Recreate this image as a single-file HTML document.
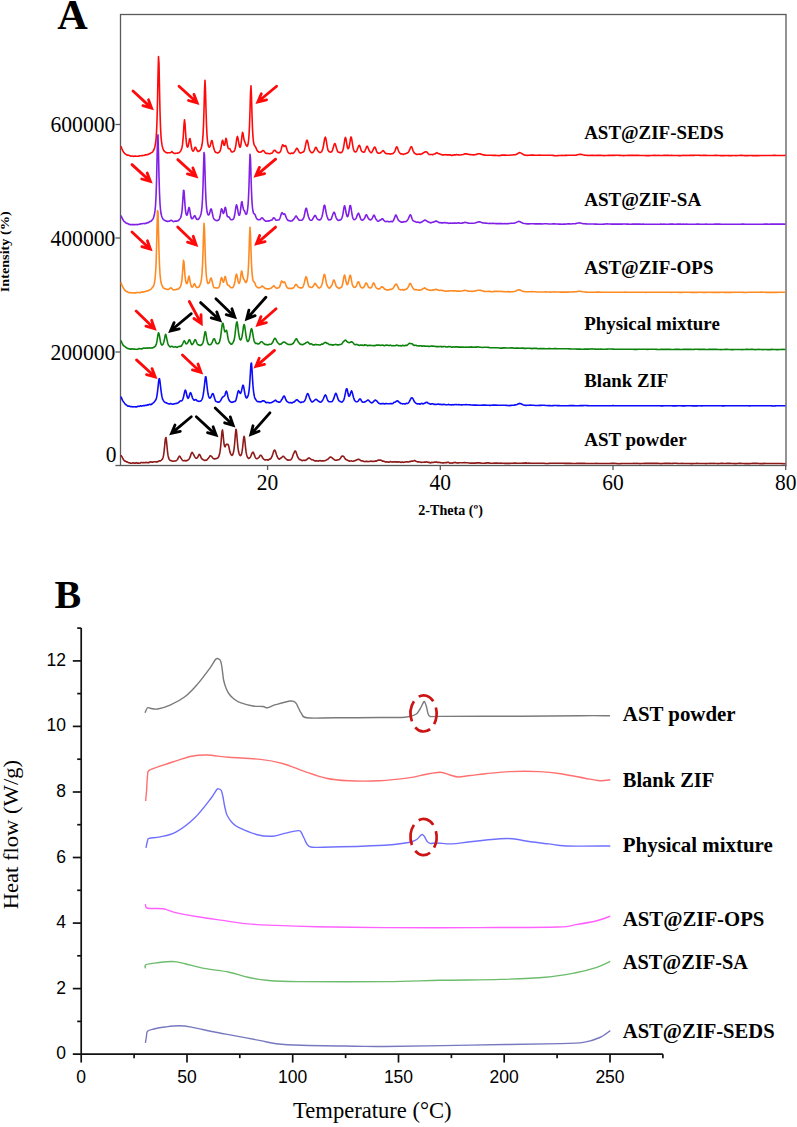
<!DOCTYPE html>
<html><head><meta charset="utf-8"><style>
html,body{margin:0;padding:0;background:#fff;}
body{width:797px;height:1127px;overflow:hidden;font-family:"Liberation Serif",serif;}
svg{display:block;}
</style></head><body>
<svg width="797" height="1127" viewBox="0 0 797 1127">
<rect width="797" height="1127" fill="#fff"/>
<text x="57.3" y="29.4" font-family='"Liberation Serif", serif' font-size="43" font-weight="bold" text-anchor="start" textLength="30.5" lengthAdjust="spacingAndGlyphs">A</text>
<rect x="120.5" y="14.5" width="665.5" height="451.0" fill="none" stroke="#5a5a5a" stroke-width="1.3"/>
<line x1="115.4" y1="124.5" x2="120.5" y2="124.5" stroke="#5a5a5a" stroke-width="1.3"/>
<line x1="115.4" y1="238.0" x2="120.5" y2="238.0" stroke="#5a5a5a" stroke-width="1.3"/>
<line x1="115.4" y1="352.0" x2="120.5" y2="352.0" stroke="#5a5a5a" stroke-width="1.3"/>
<line x1="115.4" y1="465.5" x2="120.5" y2="465.5" stroke="#5a5a5a" stroke-width="1.3"/>
<text transform="translate(115.3,132.1) scale(1,1.11)" x="0" y="0" font-family='"Liberation Serif", serif' font-size="21.5" font-weight="normal" text-anchor="end" textLength="64.8" lengthAdjust="spacingAndGlyphs">600000</text>
<text transform="translate(115.3,245.6) scale(1,1.11)" x="0" y="0" font-family='"Liberation Serif", serif' font-size="21.5" font-weight="normal" text-anchor="end" textLength="64.8" lengthAdjust="spacingAndGlyphs">400000</text>
<text transform="translate(115.3,359.6) scale(1,1.11)" x="0" y="0" font-family='"Liberation Serif", serif' font-size="21.5" font-weight="normal" text-anchor="end" textLength="64.8" lengthAdjust="spacingAndGlyphs">200000</text>
<text transform="translate(116.5,461.5) scale(1,1.11)" x="0" y="0" font-family='"Liberation Serif", serif' font-size="21.5" font-weight="normal" text-anchor="end">0</text>
<line x1="267.6" y1="465.5" x2="267.6" y2="470.0" stroke="#5a5a5a" stroke-width="1.3"/>
<text transform="translate(267.6,490) scale(1,1.11)" x="0" y="0" font-family='"Liberation Serif", serif' font-size="21.5" font-weight="normal" text-anchor="middle">20</text>
<line x1="440.3" y1="465.5" x2="440.3" y2="470.0" stroke="#5a5a5a" stroke-width="1.3"/>
<text transform="translate(440.3,490) scale(1,1.11)" x="0" y="0" font-family='"Liberation Serif", serif' font-size="21.5" font-weight="normal" text-anchor="middle">40</text>
<line x1="613.0" y1="465.5" x2="613.0" y2="470.0" stroke="#5a5a5a" stroke-width="1.3"/>
<text transform="translate(613.0,490) scale(1,1.11)" x="0" y="0" font-family='"Liberation Serif", serif' font-size="21.5" font-weight="normal" text-anchor="middle">60</text>
<line x1="785.7" y1="465.5" x2="785.7" y2="470.0" stroke="#5a5a5a" stroke-width="1.3"/>
<text transform="translate(785.7,490) scale(1,1.11)" x="0" y="0" font-family='"Liberation Serif", serif' font-size="21.5" font-weight="normal" text-anchor="middle">80</text>
<text x="418.3" y="514.8" font-family='"Liberation Serif", serif' font-size="14" font-weight="bold" text-anchor="start" textLength="64.6" lengthAdjust="spacingAndGlyphs">2-Theta (º)</text>
<g transform="translate(9.3,292.3) rotate(-90)"><text x="0" y="0" font-family='"Liberation Serif", serif' font-size="13" font-weight="bold" text-anchor="start" textLength="81" lengthAdjust="spacingAndGlyphs">Intensity (%)</text></g>
<polyline points="121.0,146.3 121.5,147.6 122.0,149.0 122.5,150.2 123.0,151.2 123.5,151.9 124.0,152.5 124.5,153.2 125.0,153.8 125.5,154.0 126.0,154.4 126.5,154.8 127.0,155.0 127.5,155.2 128.0,155.1 128.5,155.3 129.0,155.3 129.5,155.6 130.0,155.7 130.5,156.0 131.0,156.2 131.5,156.3 132.0,156.1 132.5,156.0 133.0,156.0 133.5,156.4 134.0,156.3 134.5,156.2 135.0,156.0 135.5,156.1 136.0,156.3 136.5,156.2 137.0,156.3 137.5,156.2 138.0,156.2 138.5,156.1 139.0,156.0 139.5,156.0 140.0,155.8 140.5,155.7 141.0,155.8 141.5,155.7 142.0,155.7 142.5,155.4 143.0,155.5 143.5,155.5 144.0,155.5 144.5,155.3 145.0,155.0 145.5,154.9 146.0,154.9 146.5,154.8 147.0,154.6 147.5,154.6 148.0,154.5 148.5,154.3 149.0,154.1 149.5,153.7 150.0,153.6 150.5,153.2 151.0,152.9 151.5,152.5 152.0,152.4 152.5,152.1 153.0,151.4 153.5,150.4 154.0,149.4 154.5,148.0 155.0,146.2 155.5,143.5 156.0,139.6 156.5,132.7 157.0,120.7 157.5,101.4 158.0,75.7 158.5,56.5 159.0,63.7 159.5,88.9 160.0,111.7 160.5,127.1 161.0,136.3 161.5,141.6 162.0,144.9 162.5,147.0 163.0,148.8 163.5,149.9 164.0,150.8 164.5,151.4 165.0,151.7 165.5,152.2 166.0,152.5 166.5,152.8 167.0,152.7 167.5,152.9 168.0,152.8 168.5,152.7 169.0,152.7 169.5,152.7 170.0,152.8 170.5,152.7 171.0,152.3 171.5,151.8 172.0,151.6 172.5,152.2 173.0,152.7 173.5,153.1 174.0,153.3 174.5,153.5 175.0,153.5 175.5,153.4 176.0,153.3 176.5,153.3 177.0,153.2 177.5,153.0 178.0,153.1 178.5,152.9 179.0,152.8 179.5,152.3 180.0,151.9 180.5,151.1 181.0,150.3 181.5,149.2 182.0,147.4 182.5,144.7 183.0,139.7 183.5,133.0 184.0,124.4 184.5,119.9 185.0,123.5 185.5,131.5 186.0,138.7 186.5,143.5 187.0,146.3 187.5,147.2 188.0,146.6 188.5,144.7 189.0,142.0 189.5,139.1 190.0,138.6 190.5,140.7 191.0,144.3 191.5,147.3 192.0,149.5 192.5,150.6 193.0,151.2 193.5,150.8 194.0,149.9 194.5,148.5 195.0,147.3 195.5,147.2 196.0,148.1 196.5,149.5 197.0,150.3 197.5,150.9 198.0,151.4 198.5,151.5 199.0,151.2 199.5,150.7 200.0,150.5 200.5,149.7 201.0,148.6 201.5,147.0 202.0,144.8 202.5,141.3 203.0,135.4 203.5,125.6 204.0,109.8 204.5,90.6 205.0,80.3 205.5,90.8 206.0,109.8 206.5,125.1 207.0,135.2 207.5,141.1 208.0,144.6 208.5,146.3 209.0,147.1 209.5,147.1 210.0,146.4 210.5,144.8 211.0,142.7 211.5,140.7 212.0,140.5 212.5,142.2 213.0,144.9 213.5,147.3 214.0,149.1 214.5,150.5 215.0,151.6 215.5,152.2 216.0,152.4 216.5,152.6 217.0,152.8 217.5,152.9 218.0,152.7 218.5,152.7 219.0,152.2 219.5,151.9 220.0,151.0 220.5,149.7 221.0,147.6 221.5,144.8 222.0,141.8 222.5,140.2 223.0,141.3 223.5,143.6 224.0,145.3 224.5,145.3 225.0,143.5 225.5,140.5 226.0,138.3 226.5,139.3 227.0,142.6 227.5,145.8 228.0,147.8 228.5,148.6 229.0,148.6 229.5,148.5 230.0,148.9 230.5,150.0 231.0,151.0 231.5,151.8 232.0,152.0 232.5,152.0 233.0,151.8 233.5,151.6 234.0,151.3 234.5,150.5 235.0,149.3 235.5,147.1 236.0,144.3 236.5,140.5 237.0,137.5 237.5,136.4 238.0,138.4 238.5,141.4 239.0,144.3 239.5,146.5 240.0,147.4 240.5,146.7 241.0,144.1 241.5,140.2 242.0,135.5 242.5,132.4 243.0,133.4 243.5,136.7 244.0,139.6 244.5,141.2 245.0,142.3 245.5,143.7 246.0,145.0 246.5,145.8 247.0,146.3 247.5,145.9 248.0,144.3 248.5,141.0 249.0,135.3 249.5,125.6 250.0,110.7 250.5,93.2 251.0,85.7 251.5,97.3 252.0,114.9 252.5,128.8 253.0,137.1 253.5,142.0 254.0,144.4 254.5,145.5 255.0,146.2 255.5,146.8 256.0,148.0 256.5,149.2 257.0,150.3 257.5,150.9 258.0,151.5 258.5,151.8 259.0,152.3 259.5,152.2 260.0,152.2 260.5,152.0 261.0,152.0 261.5,151.7 262.0,151.2 262.5,150.8 263.0,150.5 263.5,150.7 264.0,150.9 264.5,151.7 265.0,152.4 265.5,153.2 266.0,153.3 266.5,153.4 267.0,153.5 267.5,153.4 268.0,153.5 268.5,153.5 269.0,153.7 269.5,153.8 270.0,153.7 270.5,153.4 271.0,153.2 271.5,153.2 272.0,153.0 272.5,152.7 273.0,151.9 273.5,151.0 274.0,150.4 274.5,150.2 275.0,150.4 275.5,150.9 276.0,151.4 276.5,152.1 277.0,152.3 277.5,152.6 278.0,152.6 278.5,152.9 279.0,152.7 279.5,152.6 280.0,152.2 280.5,151.4 281.0,149.9 281.5,148.0 282.0,146.3 282.5,144.9 283.0,144.9 283.5,145.8 284.0,146.4 284.5,146.3 285.0,145.6 285.5,145.6 286.0,146.3 286.5,147.9 287.0,149.6 287.5,151.0 288.0,152.2 288.5,152.8 289.0,153.3 289.5,153.4 290.0,153.6 290.5,153.6 291.0,153.5 291.5,153.1 292.0,153.1 292.5,153.3 293.0,153.5 293.5,153.1 294.0,152.5 294.5,151.8 295.0,151.2 295.5,150.3 296.0,149.3 296.5,148.5 297.0,148.3 297.5,148.8 298.0,149.7 298.5,150.8 299.0,151.7 299.5,152.5 300.0,152.9 300.5,153.1 301.0,152.8 301.5,152.8 302.0,152.5 302.5,152.3 303.0,152.1 303.5,151.9 304.0,151.2 304.5,149.7 305.0,147.7 305.5,145.3 306.0,142.9 306.5,141.0 307.0,140.2 307.5,141.1 308.0,143.0 308.5,145.6 309.0,147.9 309.5,149.7 310.0,150.9 310.5,151.6 311.0,152.3 311.5,152.6 312.0,152.9 312.5,152.6 313.0,152.3 313.5,151.6 314.0,150.9 314.5,149.8 315.0,148.6 315.5,147.5 316.0,147.3 316.5,147.9 317.0,149.1 317.5,150.2 318.0,151.0 318.5,151.5 319.0,151.9 319.5,152.4 320.0,152.5 320.5,152.5 321.0,152.3 321.5,151.8 322.0,150.8 322.5,149.7 323.0,148.1 323.5,145.5 324.0,142.5 324.5,139.4 325.0,137.6 325.5,137.2 326.0,139.1 326.5,141.9 327.0,145.3 327.5,147.9 328.0,150.1 328.5,150.9 329.0,151.7 329.5,151.8 330.0,152.0 330.5,152.1 331.0,152.0 331.5,151.9 332.0,151.2 332.5,150.2 333.0,148.6 333.5,146.7 334.0,145.0 334.5,143.7 335.0,143.6 335.5,144.8 336.0,146.5 336.5,148.3 337.0,149.8 337.5,151.2 338.0,151.9 338.5,152.3 339.0,152.3 339.5,152.5 340.0,152.6 340.5,152.6 341.0,152.8 341.5,152.4 342.0,152.0 342.5,151.1 343.0,149.8 343.5,147.7 344.0,144.8 344.5,141.5 345.0,138.4 345.5,137.4 346.0,139.1 346.5,142.2 347.0,145.5 347.5,147.6 348.0,148.7 348.5,148.4 349.0,147.4 349.5,145.0 350.0,141.8 350.5,138.4 351.0,136.9 351.5,137.8 352.0,140.8 352.5,144.1 353.0,147.2 353.5,149.5 354.0,150.8 354.5,151.5 355.0,151.9 355.5,151.9 356.0,151.8 356.5,151.2 357.0,150.3 357.5,148.8 358.0,147.6 358.5,146.2 359.0,145.5 359.5,145.4 360.0,146.6 360.5,148.1 361.0,149.9 361.5,150.9 362.0,151.6 362.5,151.8 363.0,152.0 363.5,152.3 364.0,152.3 364.5,151.8 365.0,150.8 365.5,149.5 366.0,148.5 366.5,147.0 367.0,146.3 367.5,146.2 368.0,147.7 368.5,148.9 369.0,150.3 369.5,151.0 370.0,151.7 370.5,152.3 371.0,152.7 371.5,152.6 372.0,152.0 372.5,150.9 373.0,149.9 373.5,148.8 374.0,147.8 374.5,147.1 375.0,147.1 375.5,148.1 376.0,149.4 376.5,151.0 377.0,152.2 377.5,152.9 378.0,153.1 378.5,153.1 379.0,153.2 379.5,153.2 380.0,153.1 380.5,152.8 381.0,152.5 381.5,152.0 382.0,151.5 382.5,150.9 383.0,150.6 383.5,150.8 384.0,151.4 384.5,152.0 385.0,152.8 385.5,153.2 386.0,153.5 386.5,153.6 387.0,153.6 387.5,153.8 388.0,153.8 388.5,153.7 389.0,153.8 389.5,153.9 390.0,154.1 390.5,154.0 391.0,153.9 391.5,153.8 392.0,153.7 392.5,153.6 393.0,153.5 393.5,153.0 394.0,152.6 394.5,151.8 395.0,150.8 395.5,149.4 396.0,148.1 396.5,146.9 397.0,147.0 397.5,147.8 398.0,149.4 398.5,150.8 399.0,151.8 399.5,152.6 400.0,153.2 400.5,153.7 401.0,153.9 401.5,153.8 402.0,153.9 402.5,154.1 403.0,154.4 403.5,154.4 404.0,154.0 404.5,154.0 405.0,153.9 405.5,153.8 406.0,153.6 406.5,153.3 407.0,153.3 407.5,152.8 408.0,152.6 408.5,152.0 409.0,151.1 409.5,149.9 410.0,148.8 410.5,147.6 411.0,146.8 411.5,146.7 412.0,147.6 412.5,149.0 413.0,150.5 413.5,151.7 414.0,152.6 414.5,153.1 415.0,153.5 415.5,153.8 416.0,154.1 416.5,154.4 417.0,154.4 417.5,154.4 418.0,154.3 418.5,154.2 419.0,154.0 419.5,154.1 420.0,154.2 420.5,154.4 421.0,154.0 421.5,153.9 422.0,153.7 422.5,153.6 423.0,153.0 423.5,152.7 424.0,152.5 424.5,152.3 425.0,151.9 425.5,151.7 426.0,151.8 426.5,151.8 427.0,152.2 427.5,152.7 428.0,153.5 428.5,154.0 429.0,154.4 429.5,154.5 430.0,154.5 430.5,154.5 431.0,154.5 431.5,154.5 432.0,154.5 432.5,154.7 433.0,154.6 433.5,154.4 434.0,154.0 434.5,154.0 435.0,153.7 435.5,153.6 436.0,153.1 436.5,152.9 437.0,152.6 437.5,153.0 438.0,153.4 438.5,153.6 439.0,153.7 439.5,153.8 440.0,154.1 440.5,154.2 441.0,154.4 441.5,154.6 442.0,154.9 442.5,154.8 443.0,154.9 443.5,154.8 444.0,155.0 444.5,154.8 445.0,154.7 445.5,154.6 446.0,154.7 446.5,154.9 447.0,154.9 447.5,154.9 448.0,154.8 448.5,154.7 449.0,155.0 449.5,154.9 450.0,154.9 450.5,154.9 451.0,155.3 451.5,155.5 452.0,155.4 452.5,155.2 453.0,155.1 453.5,155.1 454.0,155.0 454.5,154.8 455.0,154.9 455.5,154.9 456.0,154.7 456.5,154.5 457.0,154.7 457.5,154.8 458.0,154.9 458.5,154.8 459.0,155.0 459.5,155.0 460.0,155.0 461.5,154.7 463.0,154.5 464.5,153.9 466.0,153.8 467.5,154.1 469.0,154.5 470.5,154.6 472.0,154.7 473.5,154.9 475.0,154.7 476.5,154.4 478.0,153.8 479.5,153.8 481.0,154.1 482.5,154.7 484.0,154.9 485.5,155.2 487.0,155.3 488.5,155.2 490.0,155.2 491.5,155.3 493.0,155.4 494.5,155.2 496.0,155.4 497.5,155.5 499.0,155.6 500.5,155.4 502.0,155.1 503.5,155.1 505.0,155.1 506.5,155.3 508.0,155.3 509.5,155.2 511.0,155.0 512.5,155.0 514.0,154.8 515.5,154.7 517.0,154.0 518.5,153.1 520.0,152.6 521.5,153.4 523.0,154.3 524.5,155.1 526.0,155.3 527.5,155.4 529.0,155.2 530.5,155.1 532.0,155.0 533.5,155.1 535.0,155.2 536.5,155.2 538.0,155.2 539.5,155.1 541.0,155.3 542.5,155.3 544.0,155.3 545.5,155.3 547.0,155.3 548.5,155.3 550.0,155.2 551.5,155.2 553.0,155.4 554.5,155.6 556.0,155.7 557.5,155.6 559.0,155.5 560.5,155.5 562.0,155.4 563.5,155.5 565.0,155.4 566.5,155.4 568.0,155.3 569.5,155.3 571.0,155.3 572.5,155.3 574.0,155.3 575.5,155.2 577.0,154.9 578.5,154.5 580.0,154.3 581.5,154.4 583.0,154.8 584.5,155.1 586.0,155.3 587.5,155.4 589.0,155.5 590.5,155.4 592.0,155.4 593.5,155.4 595.0,155.5 596.5,155.4 598.0,155.4 599.5,155.3 601.0,155.4 602.5,155.5 604.0,155.6 605.5,155.5 607.0,155.5 608.5,155.4 610.0,155.4 611.5,155.4 613.0,155.4 614.5,155.4 616.0,155.3 617.5,155.3 619.0,155.4 620.5,155.4 622.0,155.5 623.5,155.6 625.0,155.5 626.5,155.5 628.0,155.4 629.5,155.3 631.0,155.4 632.5,155.4 634.0,155.4 635.5,155.4 637.0,155.4 638.5,155.4 640.0,155.5 641.5,155.5 643.0,155.5 644.5,155.5 646.0,155.6 647.5,155.6 649.0,155.6 650.5,155.5 652.0,155.5 653.5,155.4 655.0,155.4 656.5,155.5 658.0,155.4 659.5,155.5 661.0,155.5 662.5,155.5 664.0,155.4 665.5,155.4 667.0,155.4 668.5,155.4 670.0,155.5 671.5,155.4 673.0,155.5 674.5,155.5 676.0,155.5 677.5,155.5 679.0,155.6 680.5,155.6 682.0,155.5 683.5,155.4 685.0,155.5 686.5,155.4 688.0,155.5 689.5,155.4 691.0,155.4 692.5,155.4 694.0,155.4 695.5,155.3 697.0,155.3 698.5,155.3 700.0,155.4 701.5,155.5 703.0,155.4 704.5,155.4 706.0,155.4 707.5,155.5 709.0,155.5 710.5,155.5 712.0,155.5 713.5,155.5 715.0,155.4 716.5,155.4 718.0,155.5 719.5,155.5 721.0,155.6 722.5,155.5 724.0,155.6 725.5,155.5 727.0,155.5 728.5,155.6 730.0,155.6 731.5,155.6 733.0,155.5 734.5,155.5 736.0,155.6 737.5,155.5 739.0,155.5 740.5,155.4 742.0,155.4 743.5,155.5 745.0,155.6 746.5,155.6 748.0,155.6 749.5,155.5 751.0,155.5 752.5,155.6 754.0,155.6 755.5,155.6 757.0,155.5 758.5,155.6 760.0,155.5 761.5,155.5 763.0,155.5 764.5,155.5 766.0,155.5 767.5,155.5 769.0,155.5 770.5,155.5 772.0,155.5 773.5,155.4 775.0,155.4 776.5,155.5 778.0,155.5 779.5,155.5 781.0,155.5 782.5,155.5 784.0,155.5 785.5,155.4" fill="none" stroke="#ff0a0a" stroke-width="1.6" stroke-linejoin="round"/>
<polyline points="121.0,215.4 121.5,216.9 122.0,217.9 122.5,219.0 123.0,219.7 123.5,220.7 124.0,221.3 124.5,221.7 125.0,222.1 125.5,222.6 126.0,223.0 126.5,223.3 127.0,223.5 127.5,223.4 128.0,223.7 128.5,224.0 129.0,224.4 129.5,224.4 130.0,224.6 130.5,224.6 131.0,224.5 131.5,224.5 132.0,224.7 132.5,224.6 133.0,224.8 133.5,224.6 134.0,224.6 134.5,224.6 135.0,224.7 135.5,224.6 136.0,224.4 136.5,224.5 137.0,224.7 137.5,224.7 138.0,224.5 138.5,224.4 139.0,224.3 139.5,224.3 140.0,224.1 140.5,224.0 141.0,223.8 141.5,223.8 142.0,223.8 142.5,223.7 143.0,223.5 143.5,223.5 144.0,223.5 144.5,223.6 145.0,223.5 145.5,223.4 146.0,223.5 146.5,223.1 147.0,223.0 147.5,222.5 148.0,222.7 148.5,222.6 149.0,222.3 149.5,221.7 150.0,221.4 150.5,221.4 151.0,221.3 151.5,220.8 152.0,220.2 152.5,219.6 153.0,218.8 153.5,217.8 154.0,216.0 154.5,214.1 155.0,210.7 155.5,205.9 156.0,197.0 156.5,182.6 157.0,161.3 157.5,139.0 158.0,134.9 158.5,153.6 159.0,176.4 159.5,193.1 160.0,203.6 160.5,209.6 161.0,213.3 161.5,215.5 162.0,217.0 162.5,218.1 163.0,219.0 163.5,219.6 164.0,220.0 164.5,220.2 165.0,220.5 165.5,220.7 166.0,221.0 166.5,221.1 167.0,221.4 167.5,221.2 168.0,221.4 168.5,221.3 169.0,221.2 169.5,221.1 170.0,220.7 170.5,220.6 171.0,220.3 171.5,220.4 172.0,220.6 172.5,221.0 173.0,221.4 173.5,221.6 174.0,221.5 174.5,221.3 175.0,221.3 175.5,221.0 176.0,221.2 176.5,221.0 177.0,221.1 177.5,220.9 178.0,220.8 178.5,220.4 179.0,219.9 179.5,219.3 180.0,218.6 180.5,217.8 181.0,216.7 181.5,214.5 182.0,210.9 182.5,204.8 183.0,197.2 183.5,190.3 184.0,190.7 184.5,197.6 185.0,205.3 185.5,210.7 186.0,213.8 186.5,215.0 187.0,215.2 187.5,214.0 188.0,211.8 188.5,208.9 189.0,207.4 189.5,208.3 190.0,211.5 190.5,214.6 191.0,217.1 191.5,218.4 192.0,218.8 192.5,218.6 193.0,218.1 193.5,217.4 194.0,216.5 194.5,215.7 195.0,215.8 195.5,216.9 196.0,218.2 196.5,219.0 197.0,219.3 197.5,219.4 198.0,219.4 198.5,219.2 199.0,218.5 199.5,217.6 200.0,216.8 200.5,215.4 201.0,213.9 201.5,211.1 202.0,206.8 202.5,199.0 203.0,186.3 203.5,168.2 204.0,152.6 204.5,154.9 205.0,172.1 205.5,188.9 206.0,200.3 206.5,207.2 207.0,211.5 207.5,213.5 208.0,214.7 208.5,214.9 209.0,214.7 209.5,213.6 210.0,211.8 210.5,209.8 211.0,208.9 211.5,209.4 212.0,211.7 212.5,214.0 213.0,216.5 213.5,218.1 214.0,219.0 214.5,219.5 215.0,219.9 215.5,220.3 216.0,220.4 216.5,220.6 217.0,220.8 217.5,220.6 218.0,220.3 218.5,220.0 219.0,219.6 219.5,218.5 220.0,216.3 220.5,213.6 221.0,210.7 221.5,208.7 222.0,209.2 222.5,211.1 223.0,213.0 223.5,213.5 224.0,212.5 224.5,210.0 225.0,207.6 225.5,207.3 226.0,209.7 226.5,213.0 227.0,215.4 227.5,216.6 228.0,216.9 228.5,216.7 229.0,216.9 229.5,217.6 230.0,218.7 230.5,219.3 231.0,219.8 231.5,219.7 232.0,219.7 232.5,219.6 233.0,219.3 233.5,218.9 234.0,217.7 234.5,215.8 235.0,212.9 235.5,209.5 236.0,206.5 236.5,204.8 237.0,205.9 237.5,208.5 238.0,211.4 238.5,213.9 239.0,215.3 239.5,215.2 240.0,213.5 240.5,210.4 241.0,206.2 241.5,202.3 242.0,201.6 242.5,204.3 243.0,207.5 243.5,209.4 244.0,210.2 244.5,210.9 245.0,212.2 245.5,213.4 246.0,214.4 246.5,214.1 247.0,212.9 247.5,210.1 248.0,205.7 248.5,198.0 249.0,185.2 249.5,167.8 250.0,154.2 250.5,158.8 251.0,176.0 251.5,191.7 252.0,202.1 252.5,208.0 253.0,211.3 253.5,213.1 254.0,213.7 254.5,214.1 255.0,214.6 255.5,215.8 256.0,217.3 256.5,218.2 257.0,219.0 257.5,219.2 258.0,219.7 258.5,219.8 259.0,219.8 259.5,219.7 260.0,219.6 260.5,219.1 261.0,218.6 261.5,218.0 262.0,217.9 262.5,218.0 263.0,218.6 263.5,219.4 264.0,219.8 264.5,220.3 265.0,220.6 265.5,221.1 266.0,221.2 266.5,221.2 267.0,221.1 267.5,221.0 268.0,220.9 268.5,221.0 269.0,220.8 269.5,220.9 270.0,220.5 270.5,220.4 271.0,220.2 271.5,220.1 272.0,219.9 272.5,219.3 273.0,218.5 273.5,217.8 274.0,217.8 274.5,218.2 275.0,218.9 275.5,219.7 276.0,220.2 276.5,220.2 277.0,220.1 277.5,220.0 278.0,220.0 278.5,220.0 279.0,219.8 279.5,219.1 280.0,218.0 280.5,216.6 281.0,215.0 281.5,213.3 282.0,212.6 282.5,213.1 283.0,213.9 283.5,214.3 284.0,214.1 284.5,213.9 285.0,214.4 285.5,215.6 286.0,216.9 286.5,218.1 287.0,219.1 287.5,219.9 288.0,220.4 288.5,220.6 289.0,220.6 289.5,220.8 290.0,220.9 290.5,221.1 291.0,221.0 291.5,221.0 292.0,220.9 292.5,220.4 293.0,219.9 293.5,219.4 294.0,218.9 294.5,218.2 295.0,217.4 295.5,216.5 296.0,215.9 296.5,216.3 297.0,217.1 297.5,218.0 298.0,218.7 298.5,219.4 299.0,220.0 299.5,220.3 300.0,220.3 300.5,220.3 301.0,220.2 301.5,220.2 302.0,220.1 302.5,219.7 303.0,219.0 303.5,218.3 304.0,216.7 304.5,214.8 305.0,212.0 305.5,209.7 306.0,208.2 306.5,208.5 307.0,210.5 307.5,212.9 308.0,215.1 308.5,216.8 309.0,218.2 309.5,219.2 310.0,219.9 310.5,220.2 311.0,220.3 311.5,220.3 312.0,220.1 312.5,219.4 313.0,218.5 313.5,217.5 314.0,216.8 314.5,215.8 315.0,215.5 315.5,215.6 316.0,216.7 316.5,217.7 317.0,218.6 317.5,219.1 318.0,219.5 318.5,219.8 319.0,219.9 319.5,219.9 320.0,219.9 320.5,219.5 321.0,219.0 321.5,217.8 322.0,216.5 322.5,214.5 323.0,211.9 323.5,208.9 324.0,206.0 324.5,205.1 325.0,206.1 325.5,209.1 326.0,212.0 326.5,214.4 327.0,216.3 327.5,217.7 328.0,219.1 328.5,219.7 329.0,220.0 329.5,219.7 330.0,219.8 330.5,219.7 331.0,219.4 331.5,218.4 332.0,216.8 332.5,215.4 333.0,214.0 333.5,212.7 334.0,212.2 334.5,212.6 335.0,214.0 335.5,215.8 336.0,217.2 336.5,218.5 337.0,219.2 337.5,219.9 338.0,220.3 338.5,220.4 339.0,220.3 339.5,220.1 340.0,220.0 340.5,219.8 341.0,219.5 341.5,218.7 342.0,217.8 342.5,216.0 343.0,213.6 343.5,210.3 344.0,207.3 344.5,205.7 345.0,206.8 345.5,209.3 346.0,212.3 346.5,214.6 347.0,216.2 347.5,216.7 348.0,216.1 348.5,214.3 349.0,211.5 349.5,207.9 350.0,205.5 350.5,205.5 351.0,207.8 351.5,211.0 352.0,214.1 352.5,216.7 353.0,218.3 353.5,219.2 354.0,219.6 354.5,219.6 355.0,219.4 355.5,219.0 356.0,218.5 356.5,217.3 357.0,215.9 357.5,214.6 358.0,213.8 358.5,213.2 359.0,214.2 359.5,215.3 360.0,217.1 360.5,218.3 361.0,219.5 361.5,220.0 362.0,220.1 362.5,220.1 363.0,219.9 363.5,219.4 364.0,219.0 364.5,218.2 365.0,217.5 365.5,215.8 366.0,214.9 366.5,214.7 367.0,215.7 367.5,216.7 368.0,217.7 368.5,218.6 369.0,219.2 369.5,219.6 370.0,219.8 370.5,219.9 371.0,219.8 371.5,219.2 372.0,218.7 372.5,217.8 373.0,216.6 373.5,215.6 374.0,215.1 374.5,215.8 375.0,216.9 375.5,218.1 376.0,219.2 376.5,219.7 377.0,220.4 377.5,221.0 378.0,221.2 378.5,221.2 379.0,220.9 379.5,220.6 380.0,220.1 380.5,219.9 381.0,219.8 381.5,219.4 382.0,218.8 382.5,218.7 383.0,219.1 383.5,220.0 384.0,220.5 384.5,221.1 385.0,221.4 385.5,221.5 386.0,221.6 386.5,221.4 387.0,221.5 387.5,221.4 388.0,221.6 388.5,221.6 389.0,221.7 389.5,221.8 390.0,221.7 390.5,221.6 391.0,221.3 391.5,221.5 392.0,221.7 392.5,221.6 393.0,221.1 393.5,220.4 394.0,219.2 394.5,218.2 395.0,216.6 395.5,215.3 396.0,215.0 396.5,215.8 397.0,217.2 397.5,218.3 398.0,219.2 398.5,220.3 399.0,220.7 399.5,221.1 400.0,221.4 400.5,221.7 401.0,222.0 401.5,222.1 402.0,222.3 402.5,222.1 403.0,222.2 403.5,221.7 404.0,221.6 404.5,221.7 405.0,221.7 405.5,221.8 406.0,221.5 406.5,221.2 407.0,220.7 407.5,220.1 408.0,219.3 408.5,218.3 409.0,217.2 409.5,216.0 410.0,215.0 410.5,214.8 411.0,215.6 411.5,217.0 412.0,218.5 412.5,219.8 413.0,220.6 413.5,220.9 414.0,221.2 414.5,221.4 415.0,221.5 415.5,221.7 416.0,221.9 416.5,222.2 417.0,222.2 417.5,222.3 418.0,222.1 418.5,222.3 419.0,222.4 419.5,222.7 420.0,222.6 420.5,222.6 421.0,222.3 421.5,222.1 422.0,222.0 422.5,221.6 423.0,221.2 423.5,220.7 424.0,220.5 424.5,220.2 425.0,220.1 425.5,220.2 426.0,220.6 426.5,220.7 427.0,221.2 427.5,221.4 428.0,221.8 428.5,222.1 429.0,222.3 429.5,222.3 430.0,222.6 430.5,222.7 431.0,222.9 431.5,222.6 432.0,222.4 432.5,222.3 433.0,222.3 433.5,221.9 434.0,221.7 434.5,221.8 435.0,221.5 435.5,221.3 436.0,220.9 436.5,221.2 437.0,221.5 437.5,221.6 438.0,221.9 438.5,222.2 439.0,222.5 439.5,222.6 440.0,222.6 440.5,222.6 441.0,222.9 441.5,222.8 442.0,223.0 442.5,222.7 443.0,222.9 443.5,222.8 444.0,222.7 444.5,222.6 445.0,222.5 445.5,222.8 446.0,223.0 446.5,223.0 447.0,222.9 447.5,222.9 448.0,223.1 448.5,223.4 449.0,223.3 449.5,223.2 450.0,223.0 450.5,223.1 451.0,223.3 451.5,223.3 452.0,223.2 452.5,223.1 453.0,223.0 453.5,223.3 454.0,223.3 454.5,223.2 455.0,222.9 455.5,223.0 456.0,223.2 456.5,223.3 457.0,223.1 457.5,223.0 458.0,222.9 458.5,222.8 459.0,222.9 459.5,223.0 460.0,223.2 461.5,223.1 463.0,222.9 464.5,222.4 466.0,222.5 467.5,222.9 469.0,223.2 470.5,223.2 472.0,223.3 473.5,223.2 475.0,223.0 476.5,222.6 478.0,222.0 479.5,221.8 481.0,222.2 482.5,222.9 484.0,223.0 485.5,223.1 487.0,223.2 488.5,223.5 490.0,223.4 491.5,223.5 493.0,223.4 494.5,223.5 496.0,223.6 497.5,223.6 499.0,223.6 500.5,223.6 502.0,223.6 503.5,223.7 505.0,223.6 506.5,223.7 508.0,223.6 509.5,223.5 511.0,223.3 512.5,223.3 514.0,223.2 515.5,222.8 517.0,222.1 518.5,221.4 520.0,221.7 521.5,222.6 523.0,223.2 524.5,223.5 526.0,223.8 527.5,223.9 529.0,223.9 530.5,223.8 532.0,223.7 533.5,223.8 535.0,223.9 536.5,223.9 538.0,223.9 539.5,223.9 541.0,223.9 542.5,224.0 544.0,223.8 545.5,223.8 547.0,223.8 548.5,224.0 550.0,224.0 551.5,224.0 553.0,223.9 554.5,223.9 556.0,224.0 557.5,224.0 559.0,224.1 560.5,224.1 562.0,224.2 563.5,224.1 565.0,224.1 566.5,224.0 568.0,223.9 569.5,223.9 571.0,224.0 572.5,223.8 574.0,223.8 575.5,223.6 577.0,223.3 578.5,223.0 580.0,222.9 581.5,223.3 583.0,223.6 584.5,223.8 586.0,223.9 587.5,224.0 589.0,224.0 590.5,224.0 592.0,224.0 593.5,224.0 595.0,224.1 596.5,224.1 598.0,224.2 599.5,224.2 601.0,224.2 602.5,224.2 604.0,224.1 605.5,224.0 607.0,223.9 608.5,224.0 610.0,224.0 611.5,224.1 613.0,224.1 614.5,224.0 616.0,224.1 617.5,224.0 619.0,224.1 620.5,224.0 622.0,224.1 623.5,224.0 625.0,224.0 626.5,224.1 628.0,224.1 629.5,224.2 631.0,224.2 632.5,224.1 634.0,224.0 635.5,224.1 637.0,224.1 638.5,224.1 640.0,224.1 641.5,224.2 643.0,224.1 644.5,224.2 646.0,224.2 647.5,224.3 649.0,224.2 650.5,224.3 652.0,224.3 653.5,224.3 655.0,224.3 656.5,224.2 658.0,224.2 659.5,224.2 661.0,224.1 662.5,224.2 664.0,224.1 665.5,224.2 667.0,224.2 668.5,224.2 670.0,224.1 671.5,224.1 673.0,224.1 674.5,224.2 676.0,224.2 677.5,224.1 679.0,224.1 680.5,224.1 682.0,224.2 683.5,224.1 685.0,224.2 686.5,224.1 688.0,224.2 689.5,224.2 691.0,224.2 692.5,224.2 694.0,224.2 695.5,224.2 697.0,224.1 698.5,224.1 700.0,224.2 701.5,224.3 703.0,224.3 704.5,224.2 706.0,224.1 707.5,224.2 709.0,224.3 710.5,224.3 712.0,224.2 713.5,224.2 715.0,224.1 716.5,224.1 718.0,224.1 719.5,224.1 721.0,224.3 722.5,224.3 724.0,224.3 725.5,224.2 727.0,224.3 728.5,224.3 730.0,224.2 731.5,224.2 733.0,224.2 734.5,224.2 736.0,224.2 737.5,224.2 739.0,224.2 740.5,224.2 742.0,224.1 743.5,224.1 745.0,224.2 746.5,224.2 748.0,224.3 749.5,224.3 751.0,224.2 752.5,224.2 754.0,224.2 755.5,224.3 757.0,224.3 758.5,224.2 760.0,224.2 761.5,224.2 763.0,224.2 764.5,224.1 766.0,224.1 767.5,224.1 769.0,224.2 770.5,224.1 772.0,224.1 773.5,224.0 775.0,224.1 776.5,224.1 778.0,224.1 779.5,224.1 781.0,224.1 782.5,224.1 784.0,224.1 785.5,224.2" fill="none" stroke="#8020e6" stroke-width="1.6" stroke-linejoin="round"/>
<polyline points="121.0,282.6 121.5,284.2 122.0,285.3 122.5,286.6 123.0,287.3 123.5,288.2 124.0,289.0 124.5,289.8 125.0,290.4 125.5,290.9 126.0,291.3 126.5,291.5 127.0,291.6 127.5,291.7 128.0,292.2 128.5,292.4 129.0,292.7 129.5,292.6 130.0,292.6 130.5,292.7 131.0,292.8 131.5,292.9 132.0,292.7 132.5,292.8 133.0,292.7 133.5,292.9 134.0,293.0 134.5,292.9 135.0,292.9 135.5,292.9 136.0,292.9 136.5,292.6 137.0,292.4 137.5,292.5 138.0,292.5 138.5,292.5 139.0,292.5 139.5,292.7 140.0,292.8 140.5,292.5 141.0,292.2 141.5,292.0 142.0,292.0 142.5,292.2 143.0,291.9 143.5,291.9 144.0,291.8 144.5,291.8 145.0,291.6 145.5,291.4 146.0,291.2 146.5,291.1 147.0,291.0 147.5,290.7 148.0,290.8 148.5,290.5 149.0,290.4 149.5,290.0 150.0,289.8 150.5,289.6 151.0,289.2 151.5,288.7 152.0,287.9 152.5,287.3 153.0,286.9 153.5,286.0 154.0,284.7 154.5,282.3 155.0,279.1 155.5,273.7 156.0,265.0 156.5,250.2 157.0,229.6 157.5,210.6 158.0,211.7 158.5,231.3 159.0,251.4 159.5,265.3 160.0,273.9 160.5,279.0 161.0,282.3 161.5,284.0 162.0,285.4 162.5,286.5 163.0,287.4 163.5,288.0 164.0,288.3 164.5,288.6 165.0,288.7 165.5,288.9 166.0,289.0 166.5,289.1 167.0,289.4 167.5,289.5 168.0,289.5 168.5,289.2 169.0,289.1 169.5,288.8 170.0,288.3 170.5,287.9 171.0,287.9 171.5,288.2 172.0,288.6 172.5,289.3 173.0,289.7 173.5,289.9 174.0,289.7 174.5,289.8 175.0,289.8 175.5,289.7 176.0,289.4 176.5,289.3 177.0,289.4 177.5,289.2 178.0,289.2 178.5,288.7 179.0,288.5 179.5,287.7 180.0,287.4 180.5,286.3 181.0,285.0 181.5,282.6 182.0,279.1 182.5,273.3 183.0,266.0 183.5,260.4 184.0,262.3 184.5,269.0 185.0,275.6 185.5,279.9 186.0,282.5 186.5,283.5 187.0,283.6 187.5,282.5 188.0,280.0 188.5,277.4 189.0,276.0 189.5,277.9 190.0,280.9 190.5,283.7 191.0,285.4 191.5,286.7 192.0,287.1 192.5,287.0 193.0,286.4 193.5,285.3 194.0,284.1 194.5,283.7 195.0,284.4 195.5,285.7 196.0,286.7 196.5,287.4 197.0,287.6 197.5,287.4 198.0,287.2 198.5,287.2 199.0,286.8 199.5,285.9 200.0,284.8 200.5,283.6 201.0,281.7 201.5,278.9 202.0,273.9 202.5,265.7 203.0,252.6 203.5,235.3 204.0,223.2 204.5,229.2 205.0,246.4 205.5,261.4 206.0,271.3 206.5,277.0 207.0,280.6 207.5,282.6 208.0,283.5 208.5,283.5 209.0,283.0 209.5,282.0 210.0,280.4 210.5,278.8 211.0,278.0 211.5,278.8 212.0,280.7 212.5,283.1 213.0,285.0 213.5,286.8 214.0,287.6 214.5,287.8 215.0,287.7 215.5,287.8 216.0,288.0 216.5,288.0 217.0,287.9 217.5,288.0 218.0,288.0 218.5,287.6 219.0,287.0 219.5,285.8 220.0,284.1 220.5,281.4 221.0,278.8 221.5,277.5 222.0,278.2 222.5,280.2 223.0,281.7 223.5,282.2 224.0,281.0 224.5,278.4 225.0,276.6 225.5,276.8 226.0,279.3 226.5,281.8 227.0,283.6 227.5,284.7 228.0,285.2 228.5,285.2 229.0,285.6 229.5,286.1 230.0,286.8 230.5,287.2 231.0,287.7 231.5,287.7 232.0,287.7 232.5,287.7 233.0,287.4 233.5,286.5 234.0,285.3 234.5,283.6 235.0,281.0 235.5,278.0 236.0,275.2 236.5,274.2 237.0,275.6 237.5,278.2 238.0,280.9 238.5,282.6 239.0,283.3 239.5,282.9 240.0,281.1 240.5,277.9 241.0,273.9 241.5,271.1 242.0,271.6 242.5,274.6 243.0,277.3 243.5,278.8 244.0,279.5 244.5,280.2 245.0,281.5 245.5,282.2 246.0,282.6 246.5,281.8 247.0,280.6 247.5,278.1 248.0,273.8 248.5,265.8 249.0,253.2 249.5,237.1 250.0,227.4 250.5,234.9 251.0,250.9 251.5,264.0 252.0,272.7 252.5,277.6 253.0,280.4 253.5,281.5 254.0,281.8 254.5,282.5 255.0,283.3 255.5,284.8 256.0,285.8 256.5,286.7 257.0,286.9 257.5,287.3 258.0,287.8 258.5,287.9 259.0,287.8 259.5,287.6 260.0,287.5 260.5,287.5 261.0,286.9 261.5,286.5 262.0,285.9 262.5,286.4 263.0,286.6 263.5,287.0 264.0,287.2 264.5,287.7 265.0,288.4 265.5,288.6 266.0,288.7 266.5,288.6 267.0,288.9 267.5,288.9 268.0,289.0 268.5,288.9 269.0,288.8 269.5,288.7 270.0,288.5 270.5,288.3 271.0,288.2 271.5,287.7 272.0,287.5 272.5,286.9 273.0,286.5 273.5,285.9 274.0,285.8 274.5,286.3 275.0,287.0 275.5,287.5 276.0,288.0 276.5,288.1 277.0,288.2 277.5,288.0 278.0,288.0 278.5,287.8 279.0,287.5 279.5,286.9 280.0,285.9 280.5,284.2 281.0,282.5 281.5,281.0 282.0,281.2 282.5,281.9 283.0,282.6 283.5,282.6 284.0,282.0 284.5,281.9 285.0,282.5 285.5,284.0 286.0,285.2 286.5,286.6 287.0,287.2 287.5,287.9 288.0,288.1 288.5,288.5 289.0,288.5 289.5,288.3 290.0,288.2 290.5,288.4 291.0,288.6 291.5,288.4 292.0,288.4 292.5,288.2 293.0,288.1 293.5,287.7 294.0,287.2 294.5,286.4 295.0,285.5 295.5,284.6 296.0,284.5 296.5,284.5 297.0,285.4 297.5,286.0 298.0,286.9 298.5,287.2 299.0,287.4 299.5,287.6 300.0,287.8 300.5,288.0 301.0,287.9 301.5,288.0 302.0,287.7 302.5,287.5 303.0,286.6 303.5,285.5 304.0,283.9 304.5,282.0 305.0,279.8 305.5,277.9 306.0,276.7 306.5,277.2 307.0,279.0 307.5,281.4 308.0,283.7 308.5,285.5 309.0,286.6 309.5,286.9 310.0,287.1 310.5,287.1 311.0,287.5 311.5,287.5 312.0,287.5 312.5,287.0 313.0,286.5 313.5,285.8 314.0,284.9 314.5,284.0 315.0,283.3 315.5,283.7 316.0,284.4 316.5,285.4 317.0,285.9 317.5,286.5 318.0,287.2 318.5,287.9 319.0,288.0 319.5,288.0 320.0,287.6 320.5,287.3 321.0,286.6 321.5,285.6 322.0,284.2 322.5,282.4 323.0,279.7 323.5,277.1 324.0,274.7 324.5,274.4 325.0,275.7 325.5,278.4 326.0,281.2 326.5,283.5 327.0,285.2 327.5,286.1 328.0,287.0 328.5,287.5 329.0,288.1 329.5,288.1 330.0,287.6 330.5,287.2 331.0,286.5 331.5,285.8 332.0,284.8 332.5,283.3 333.0,281.8 333.5,280.2 334.0,280.0 334.5,280.9 335.0,282.5 335.5,284.1 336.0,285.6 336.5,286.6 337.0,287.2 337.5,287.3 338.0,287.8 338.5,288.3 339.0,288.5 339.5,288.2 340.0,287.9 340.5,287.8 341.0,287.4 341.5,287.1 342.0,286.1 342.5,284.6 343.0,282.1 343.5,279.1 344.0,276.5 344.5,275.1 345.0,276.2 345.5,278.6 346.0,281.3 346.5,283.3 347.0,284.5 347.5,284.6 348.0,283.6 348.5,281.7 349.0,279.4 349.5,276.9 350.0,275.2 350.5,275.5 351.0,277.6 351.5,280.6 352.0,283.2 352.5,285.1 353.0,286.2 353.5,286.9 354.0,287.3 354.5,287.4 355.0,287.3 355.5,286.9 356.0,286.5 356.5,285.5 357.0,284.3 357.5,282.8 358.0,281.9 358.5,281.7 359.0,282.5 359.5,283.9 360.0,285.4 360.5,286.7 361.0,287.2 361.5,287.6 362.0,287.7 362.5,287.9 363.0,287.8 363.5,287.4 364.0,286.9 364.5,286.0 365.0,284.8 365.5,283.7 366.0,283.0 366.5,283.1 367.0,283.8 367.5,284.8 368.0,286.1 368.5,287.0 369.0,287.6 369.5,287.8 370.0,287.9 370.5,288.0 371.0,287.7 371.5,287.3 372.0,286.3 372.5,284.9 373.0,283.8 373.5,282.9 374.0,283.3 374.5,284.2 375.0,285.6 375.5,286.6 376.0,287.4 376.5,288.0 377.0,288.4 377.5,288.6 378.0,288.7 378.5,288.9 379.0,288.9 379.5,288.9 380.0,288.4 380.5,288.0 381.0,287.3 381.5,286.9 382.0,286.8 382.5,287.0 383.0,287.3 383.5,287.7 384.0,288.4 384.5,288.9 385.0,289.3 385.5,289.4 386.0,289.7 386.5,289.9 387.0,289.7 387.5,289.9 388.0,289.9 388.5,290.0 389.0,289.7 389.5,289.5 390.0,289.3 390.5,289.3 391.0,289.4 391.5,289.5 392.0,289.1 392.5,288.7 393.0,288.3 393.5,287.6 394.0,287.0 394.5,286.0 395.0,285.3 395.5,284.4 396.0,284.0 396.5,284.2 397.0,284.8 397.5,286.0 398.0,287.1 398.5,288.4 399.0,289.1 399.5,289.5 400.0,289.6 400.5,289.8 401.0,289.9 401.5,289.8 402.0,289.7 402.5,289.4 403.0,289.7 403.5,289.9 404.0,290.2 404.5,289.8 405.0,289.6 405.5,289.4 406.0,289.4 406.5,289.1 407.0,288.8 407.5,288.1 408.0,287.4 408.5,286.4 409.0,285.3 409.5,284.1 410.0,283.4 410.5,283.6 411.0,284.3 411.5,285.5 412.0,286.5 412.5,287.4 413.0,288.2 413.5,288.7 414.0,289.4 414.5,289.6 415.0,289.7 415.5,289.6 416.0,289.6 416.5,289.8 417.0,289.8 417.5,290.0 418.0,290.0 418.5,290.2 419.0,290.1 419.5,290.1 420.0,290.0 420.5,290.0 421.0,289.9 421.5,289.8 422.0,289.5 422.5,289.0 423.0,288.7 423.5,288.4 424.0,288.2 424.5,287.9 425.0,287.9 425.5,288.5 426.0,288.9 426.5,289.3 427.0,289.4 427.5,289.4 428.0,289.7 428.5,289.7 429.0,290.3 429.5,290.3 430.0,290.4 430.5,290.2 431.0,290.3 431.5,290.3 432.0,290.2 432.5,290.0 433.0,289.9 433.5,289.8 434.0,290.0 434.5,289.9 435.0,289.6 435.5,289.3 436.0,289.3 436.5,289.6 437.0,289.8 437.5,289.9 438.0,290.0 438.5,290.1 439.0,290.4 439.5,290.5 440.0,290.5 440.5,290.3 441.0,290.3 441.5,290.2 442.0,290.4 442.5,290.5 443.0,290.6 443.5,290.7 444.0,290.8 444.5,291.0 445.0,291.2 445.5,291.3 446.0,291.2 446.5,291.1 447.0,290.9 447.5,291.1 448.0,291.1 448.5,291.0 449.0,290.9 449.5,290.7 450.0,290.7 450.5,290.8 451.0,290.7 451.5,290.7 452.0,290.8 452.5,290.9 453.0,291.1 453.5,290.8 454.0,290.8 454.5,290.7 455.0,290.9 455.5,290.9 456.0,291.1 456.5,291.1 457.0,291.1 457.5,291.0 458.0,291.1 458.5,291.1 459.0,291.2 459.5,291.1 460.0,291.2 461.5,291.0 463.0,290.7 464.5,290.4 466.0,290.5 467.5,290.9 469.0,291.2 470.5,291.2 472.0,291.4 473.5,291.3 475.0,290.9 476.5,290.6 478.0,290.2 479.5,290.2 481.0,290.4 482.5,290.8 484.0,291.4 485.5,291.5 487.0,291.5 488.5,291.4 490.0,291.4 491.5,291.7 493.0,291.6 494.5,291.4 496.0,291.3 497.5,291.4 499.0,291.5 500.5,291.4 502.0,291.5 503.5,291.6 505.0,291.7 506.5,291.7 508.0,291.6 509.5,291.9 511.0,291.8 512.5,291.8 514.0,291.5 515.5,291.2 517.0,290.4 518.5,289.7 520.0,290.0 521.5,290.7 523.0,291.3 524.5,291.6 526.0,291.8 527.5,291.7 529.0,291.7 530.5,291.7 532.0,291.6 533.5,291.7 535.0,291.8 536.5,292.0 538.0,292.0 539.5,292.0 541.0,292.0 542.5,292.0 544.0,292.0 545.5,291.9 547.0,292.0 548.5,292.0 550.0,292.1 551.5,292.0 553.0,292.0 554.5,291.9 556.0,292.0 557.5,292.0 559.0,292.0 560.5,292.1 562.0,292.1 563.5,292.1 565.0,292.1 566.5,292.1 568.0,292.1 569.5,292.0 571.0,292.0 572.5,292.0 574.0,291.9 575.5,291.8 577.0,291.6 578.5,291.3 580.0,291.3 581.5,291.5 583.0,291.8 584.5,292.0 586.0,292.1 587.5,292.2 589.0,292.2 590.5,292.2 592.0,292.2 593.5,292.2 595.0,292.2 596.5,292.0 598.0,292.1 599.5,292.1 601.0,292.3 602.5,292.3 604.0,292.3 605.5,292.3 607.0,292.3 608.5,292.2 610.0,292.2 611.5,292.2 613.0,292.3 614.5,292.2 616.0,292.2 617.5,292.2 619.0,292.2 620.5,292.2 622.0,292.2 623.5,292.2 625.0,292.1 626.5,292.2 628.0,292.2 629.5,292.3 631.0,292.2 632.5,292.3 634.0,292.3 635.5,292.2 637.0,292.2 638.5,292.3 640.0,292.3 641.5,292.2 643.0,292.2 644.5,292.3 646.0,292.4 647.5,292.3 649.0,292.3 650.5,292.3 652.0,292.3 653.5,292.3 655.0,292.3 656.5,292.2 658.0,292.2 659.5,292.2 661.0,292.2 662.5,292.3 664.0,292.3 665.5,292.2 667.0,292.2 668.5,292.2 670.0,292.3 671.5,292.4 673.0,292.3 674.5,292.2 676.0,292.2 677.5,292.3 679.0,292.4 680.5,292.4 682.0,292.4 683.5,292.3 685.0,292.2 686.5,292.2 688.0,292.3 689.5,292.3 691.0,292.4 692.5,292.4 694.0,292.4 695.5,292.4 697.0,292.4 698.5,292.3 700.0,292.2 701.5,292.2 703.0,292.4 704.5,292.4 706.0,292.4 707.5,292.3 709.0,292.3 710.5,292.3 712.0,292.4 713.5,292.4 715.0,292.4 716.5,292.4 718.0,292.4 719.5,292.4 721.0,292.3 722.5,292.3 724.0,292.4 725.5,292.4 727.0,292.4 728.5,292.3 730.0,292.4 731.5,292.4 733.0,292.3 734.5,292.3 736.0,292.2 737.5,292.2 739.0,292.2 740.5,292.3 742.0,292.3 743.5,292.4 745.0,292.5 746.5,292.5 748.0,292.3 749.5,292.3 751.0,292.2 752.5,292.2 754.0,292.2 755.5,292.2 757.0,292.2 758.5,292.2 760.0,292.2 761.5,292.1 763.0,292.2 764.5,292.3 766.0,292.4 767.5,292.4 769.0,292.4 770.5,292.4 772.0,292.3 773.5,292.4 775.0,292.4 776.5,292.4 778.0,292.3 779.5,292.3 781.0,292.2 782.5,292.2 784.0,292.2 785.5,292.3" fill="none" stroke="#ff8a22" stroke-width="1.6" stroke-linejoin="round"/>
<polyline points="121.0,340.5 121.5,341.7 122.0,343.1 122.5,343.9 123.0,345.1 123.5,345.4 124.0,346.2 124.5,346.2 125.0,346.6 125.5,347.0 126.0,347.5 126.5,347.8 127.0,348.2 127.5,348.2 128.0,348.6 128.5,348.6 129.0,348.9 129.5,348.8 130.0,349.0 130.5,349.1 131.0,349.3 131.5,349.0 132.0,348.8 132.5,348.7 133.0,348.9 133.5,349.1 134.0,349.1 134.5,349.0 135.0,349.2 135.5,349.3 136.0,349.3 136.5,349.2 137.0,349.3 137.5,349.4 138.0,349.1 138.5,348.8 139.0,348.6 139.5,348.6 140.0,348.7 140.5,348.8 141.0,348.9 141.5,348.9 142.0,348.9 142.5,348.6 143.0,348.3 143.5,348.1 144.0,348.1 144.5,348.2 145.0,348.2 145.5,348.1 146.0,348.0 146.5,348.0 147.0,348.1 147.5,348.1 148.0,348.1 148.5,348.0 149.0,347.9 149.5,347.8 150.0,348.0 150.5,348.0 151.0,348.1 151.5,347.9 152.0,348.1 152.5,347.8 153.0,347.8 153.5,347.4 154.0,347.3 154.5,346.8 155.0,346.5 155.5,345.9 156.0,344.9 156.5,343.4 157.0,340.9 157.5,337.7 158.0,334.4 158.5,332.7 159.0,333.6 159.5,336.0 160.0,339.1 160.5,341.7 161.0,343.9 161.5,344.7 162.0,345.1 162.5,344.8 163.0,344.3 163.5,343.0 164.0,341.4 164.5,339.0 165.0,336.3 165.5,334.4 166.0,334.9 166.5,337.3 167.0,339.8 167.5,342.2 168.0,344.0 168.5,345.2 169.0,345.9 169.5,346.2 170.0,346.8 170.5,346.9 171.0,346.5 171.5,346.2 172.0,346.3 172.5,346.6 173.0,346.9 173.5,347.1 174.0,347.0 174.5,347.0 175.0,346.9 175.5,346.9 176.0,346.8 176.5,347.3 177.0,347.4 177.5,347.3 178.0,346.8 178.5,346.6 179.0,346.4 179.5,346.4 180.0,346.3 180.5,346.5 181.0,346.3 181.5,345.9 182.0,345.0 182.5,344.1 183.0,343.0 183.5,341.8 184.0,341.0 184.5,340.8 185.0,341.8 185.5,342.8 186.0,343.8 186.5,343.9 187.0,343.6 187.5,343.0 188.0,342.3 188.5,341.1 189.0,339.9 189.5,339.6 190.0,340.5 190.5,341.8 191.0,343.2 191.5,344.1 192.0,344.6 192.5,344.3 193.0,343.7 193.5,342.9 194.0,341.6 194.5,340.5 195.0,339.7 195.5,339.8 196.0,340.7 196.5,342.1 197.0,343.3 197.5,344.2 198.0,344.6 198.5,345.0 199.0,344.9 199.5,345.3 200.0,345.2 200.5,345.5 201.0,345.1 201.5,344.9 202.0,344.4 202.5,343.7 203.0,342.5 203.5,340.6 204.0,337.7 204.5,334.5 205.0,331.8 205.5,331.8 206.0,334.0 206.5,337.2 207.0,339.9 207.5,342.0 208.0,343.5 208.5,344.3 209.0,344.7 209.5,344.7 210.0,344.8 210.5,344.5 211.0,344.2 211.5,343.7 212.0,342.7 212.5,341.6 213.0,340.2 213.5,339.1 214.0,338.9 214.5,338.8 215.0,340.2 215.5,341.3 216.0,342.8 216.5,343.4 217.0,343.8 217.5,343.7 218.0,343.8 218.5,343.4 219.0,342.8 219.5,341.8 220.0,340.1 220.5,337.6 221.0,334.0 221.5,329.9 222.0,325.9 222.5,323.3 223.0,323.2 223.5,325.4 224.0,328.4 224.5,330.9 225.0,331.8 225.5,331.4 226.0,330.6 226.5,330.3 227.0,332.2 227.5,335.0 228.0,338.1 228.5,340.2 229.0,341.8 229.5,342.5 230.0,343.2 230.5,343.6 231.0,344.1 231.5,344.2 232.0,344.0 232.5,343.3 233.0,342.7 233.5,341.7 234.0,340.4 234.5,338.1 235.0,334.7 235.5,330.2 236.0,325.8 236.5,322.6 237.0,321.8 237.5,324.1 238.0,328.1 238.5,332.3 239.0,335.6 239.5,337.9 240.0,339.5 240.5,339.9 241.0,339.8 241.5,338.4 242.0,336.5 242.5,333.6 243.0,330.1 243.5,326.3 244.0,324.5 244.5,325.0 245.0,328.3 245.5,332.0 246.0,335.6 246.5,338.5 247.0,340.3 247.5,341.4 248.0,341.4 248.5,340.8 249.0,339.8 249.5,338.1 250.0,335.4 250.5,332.4 251.0,329.6 251.5,328.7 252.0,329.7 252.5,332.1 253.0,335.0 253.5,338.0 254.0,340.4 254.5,341.9 255.0,342.7 255.5,343.3 256.0,343.6 256.5,343.4 257.0,343.4 257.5,343.7 258.0,343.9 258.5,343.9 259.0,343.7 259.5,343.4 260.0,342.8 260.5,342.3 261.0,341.8 261.5,341.7 262.0,341.8 262.5,342.3 263.0,342.8 263.5,343.2 264.0,343.5 264.5,344.2 265.0,344.5 265.5,344.5 266.0,344.3 266.5,344.6 267.0,345.0 267.5,344.8 268.0,344.8 268.5,344.6 269.0,344.6 269.5,344.3 270.0,344.3 270.5,344.3 271.0,344.2 271.5,343.8 272.0,343.3 272.5,342.5 273.0,341.8 273.5,340.5 274.0,339.3 274.5,338.6 275.0,338.3 275.5,338.8 276.0,339.5 276.5,340.6 277.0,341.5 277.5,342.5 278.0,342.9 278.5,343.5 279.0,343.9 279.5,344.4 280.0,344.4 280.5,344.1 281.0,344.2 281.5,343.7 282.0,343.3 282.5,342.6 283.0,342.4 283.5,342.1 284.0,342.1 284.5,342.1 285.0,342.4 285.5,342.7 286.0,343.1 286.5,343.5 287.0,343.8 287.5,344.0 288.0,344.4 288.5,344.5 289.0,344.5 289.5,344.5 290.0,344.4 290.5,344.6 291.0,344.4 291.5,344.4 292.0,344.2 292.5,343.8 293.0,343.4 293.5,343.2 294.0,342.2 294.5,341.4 295.0,340.3 295.5,339.6 296.0,338.8 296.5,338.9 297.0,339.4 297.5,340.7 298.0,341.3 298.5,342.3 299.0,342.8 299.5,343.4 300.0,344.0 300.5,344.3 301.0,344.4 301.5,344.4 302.0,344.6 302.5,344.7 303.0,344.5 303.5,344.2 304.0,344.0 304.5,343.8 305.0,343.6 305.5,343.1 306.0,342.7 306.5,342.4 307.0,342.2 307.5,342.1 308.0,342.3 308.5,342.5 309.0,343.3 309.5,343.6 310.0,344.1 310.5,344.0 311.0,343.8 311.5,343.9 312.0,344.1 312.5,344.8 313.0,344.7 313.5,345.0 314.0,344.7 314.5,345.0 315.0,344.5 315.5,344.5 316.0,344.4 316.5,344.8 317.0,344.8 317.5,344.7 318.0,344.7 318.5,344.8 319.0,345.0 319.5,345.0 320.0,345.0 320.5,344.9 321.0,344.5 321.5,344.1 322.0,344.1 322.5,344.2 323.0,344.1 323.5,343.5 324.0,343.1 324.5,342.7 325.0,342.4 325.5,342.2 326.0,342.7 326.5,343.0 327.0,343.4 327.5,343.3 328.0,343.5 328.5,344.0 329.0,344.4 329.5,344.6 330.0,344.6 330.5,344.6 331.0,344.5 331.5,344.7 332.0,344.8 332.5,345.3 333.0,345.0 333.5,345.0 334.0,344.7 334.5,344.8 335.0,344.6 335.5,344.4 336.0,344.4 336.5,344.7 337.0,344.7 337.5,344.9 338.0,344.9 338.5,344.9 339.0,344.8 339.5,344.6 340.0,344.5 340.5,344.5 341.0,344.4 341.5,344.1 342.0,343.6 342.5,343.0 343.0,342.2 343.5,341.6 344.0,341.1 344.5,340.8 345.0,340.2 345.5,340.1 346.0,340.4 346.5,341.2 347.0,341.6 347.5,342.0 348.0,342.3 348.5,342.5 349.0,342.6 349.5,342.6 350.0,342.4 350.5,342.3 351.0,341.9 351.5,341.9 352.0,341.9 352.5,342.3 353.0,342.8 353.5,343.3 354.0,344.0 354.5,344.4 355.0,344.7 355.5,344.6 356.0,344.5 356.5,344.5 357.0,344.4 357.5,344.8 358.0,344.9 358.5,345.2 359.0,345.2 359.5,345.4 360.0,345.2 360.5,345.1 361.0,345.1 361.5,345.2 362.0,345.1 362.5,345.1 363.0,345.4 363.5,345.5 364.0,345.4 364.5,344.9 365.0,344.8 365.5,345.0 366.0,345.1 366.5,345.3 367.0,345.4 367.5,345.8 368.0,345.6 368.5,345.5 369.0,345.3 369.5,345.4 370.0,345.4 370.5,345.3 371.0,345.5 371.5,345.5 372.0,345.5 372.5,345.5 373.0,345.6 373.5,345.6 374.0,345.5 374.5,345.6 375.0,345.6 375.5,345.5 376.0,345.2 376.5,345.1 377.0,345.0 377.5,345.1 378.0,345.2 378.5,345.1 379.0,345.1 379.5,345.1 380.0,345.4 380.5,345.3 381.0,345.4 381.5,345.3 382.0,345.3 382.5,345.0 383.0,345.1 383.5,345.4 384.0,345.7 384.5,345.7 385.0,345.4 385.5,345.2 386.0,345.1 386.5,345.2 387.0,345.1 387.5,345.2 388.0,345.3 388.5,345.5 389.0,345.6 389.5,345.4 390.0,345.2 390.5,345.1 391.0,345.4 391.5,345.7 392.0,345.7 392.5,345.8 393.0,345.6 393.5,345.8 394.0,345.8 394.5,345.8 395.0,345.7 395.5,345.5 396.0,345.4 396.5,345.1 397.0,345.3 397.5,345.4 398.0,345.6 398.5,345.5 399.0,345.7 399.5,345.7 400.0,345.6 400.5,345.6 401.0,345.9 401.5,346.0 402.0,345.6 402.5,345.3 403.0,345.4 403.5,345.6 404.0,345.9 404.5,345.6 405.0,345.6 405.5,345.3 406.0,345.5 406.5,345.3 407.0,345.4 407.5,344.9 408.0,344.5 408.5,343.9 409.0,343.6 409.5,343.3 410.0,343.4 410.5,343.6 411.0,343.8 411.5,343.7 412.0,343.8 412.5,344.0 413.0,344.7 413.5,345.0 414.0,345.4 414.5,345.4 415.0,345.2 415.5,345.2 416.0,345.2 416.5,345.6 417.0,345.7 417.5,345.8 418.0,345.7 418.5,346.0 419.0,346.0 419.5,345.9 420.0,345.7 420.5,345.8 421.0,345.8 421.5,346.0 422.0,346.3 422.5,346.1 423.0,346.1 423.5,345.9 424.0,346.1 424.5,346.1 425.0,346.1 425.5,346.2 426.0,346.2 426.5,346.2 427.0,346.1 427.5,346.2 428.0,346.2 428.5,346.4 429.0,346.4 429.5,346.4 430.0,346.3 430.5,346.2 431.0,346.1 431.5,345.9 432.0,346.1 432.5,346.1 433.0,346.1 433.5,346.2 434.0,346.3 434.5,346.3 435.0,346.5 435.5,346.4 436.0,346.6 436.5,346.6 437.0,346.6 437.5,346.5 438.0,346.7 438.5,346.6 439.0,346.6 439.5,346.5 440.0,346.5 440.5,346.5 441.0,346.4 441.5,346.9 442.0,346.8 442.5,346.8 443.0,346.6 443.5,346.7 444.0,346.5 444.5,346.5 445.0,346.5 445.5,346.8 446.0,346.9 446.5,347.0 447.0,347.0 447.5,346.9 448.0,346.7 448.5,346.6 449.0,346.6 449.5,346.7 450.0,346.7 450.5,346.6 451.0,346.9 451.5,347.2 452.0,347.2 452.5,347.1 453.0,346.8 453.5,347.0 454.0,347.0 454.5,347.1 455.0,346.9 455.5,346.9 456.0,346.7 456.5,346.9 457.0,346.8 457.5,347.0 458.0,346.9 458.5,347.2 459.0,347.1 459.5,347.2 460.0,347.0 461.5,347.1 463.0,347.0 464.5,347.2 466.0,347.1 467.5,347.3 469.0,347.1 470.5,347.1 472.0,346.9 473.5,347.3 475.0,347.1 476.5,347.1 478.0,346.8 479.5,347.3 481.0,347.3 482.5,347.5 484.0,347.3 485.5,347.3 487.0,347.3 488.5,347.4 490.0,347.7 491.5,347.8 493.0,347.7 494.5,347.8 496.0,347.7 497.5,347.8 499.0,348.0 500.5,348.1 502.0,348.1 503.5,347.9 505.0,347.8 506.5,348.0 508.0,348.0 509.5,348.0 511.0,347.8 512.5,347.9 514.0,348.2 515.5,348.1 517.0,348.1 518.5,348.1 520.0,348.2 521.5,348.1 523.0,348.1 524.5,348.4 526.0,348.4 527.5,348.3 529.0,348.2 530.5,348.4 532.0,348.6 533.5,348.3 535.0,348.4 536.5,348.4 538.0,348.7 539.5,348.6 541.0,348.6 542.5,348.5 544.0,348.6 545.5,348.8 547.0,348.7 548.5,348.5 550.0,348.6 551.5,348.7 553.0,348.7 554.5,348.6 556.0,348.6 557.5,348.7 559.0,348.7 560.5,348.7 562.0,348.7 563.5,348.8 565.0,348.8 566.5,348.8 568.0,348.8 569.5,348.9 571.0,349.0 572.5,349.0 574.0,349.0 575.5,349.0 577.0,349.1 578.5,349.1 580.0,349.1 581.5,349.2 583.0,349.2 584.5,349.1 586.0,349.1 587.5,349.1 589.0,349.1 590.5,349.0 592.0,348.9 593.5,349.0 595.0,349.1 596.5,349.2 598.0,349.1 599.5,349.2 601.0,349.1 602.5,349.2 604.0,349.2 605.5,349.2 607.0,349.1 608.5,349.0 610.0,349.0 611.5,349.0 613.0,349.1 614.5,349.2 616.0,349.3 617.5,349.3 619.0,349.3 620.5,349.3 622.0,349.2 623.5,349.3 625.0,349.3 626.5,349.3 628.0,349.3 629.5,349.3 631.0,349.3 632.5,349.3 634.0,349.4 635.5,349.4 637.0,349.4 638.5,349.2 640.0,349.2 641.5,349.2 643.0,349.2 644.5,349.2 646.0,349.3 647.5,349.4 649.0,349.3 650.5,349.3 652.0,349.3 653.5,349.3 655.0,349.3 656.5,349.4 658.0,349.5 659.5,349.5 661.0,349.4 662.5,349.4 664.0,349.3 665.5,349.4 667.0,349.4 668.5,349.4 670.0,349.4 671.5,349.5 673.0,349.5 674.5,349.4 676.0,349.2 677.5,349.4 679.0,349.4 680.5,349.5 682.0,349.5 683.5,349.4 685.0,349.3 686.5,349.4 688.0,349.4 689.5,349.4 691.0,349.4 692.5,349.5 694.0,349.4 695.5,349.3 697.0,349.3 698.5,349.4 700.0,349.4 701.5,349.4 703.0,349.4 704.5,349.4 706.0,349.5 707.5,349.5 709.0,349.4 710.5,349.4 712.0,349.4 713.5,349.4 715.0,349.4 716.5,349.4 718.0,349.5 719.5,349.5 721.0,349.6 722.5,349.5 724.0,349.5 725.5,349.4 727.0,349.4 728.5,349.5 730.0,349.5 731.5,349.6 733.0,349.6 734.5,349.5 736.0,349.5 737.5,349.5 739.0,349.5 740.5,349.5 742.0,349.6 743.5,349.5 745.0,349.5 746.5,349.4 748.0,349.4 749.5,349.5 751.0,349.4 752.5,349.4 754.0,349.5 755.5,349.6 757.0,349.5 758.5,349.4 760.0,349.5 761.5,349.5 763.0,349.6 764.5,349.5 766.0,349.5 767.5,349.6 769.0,349.6 770.5,349.6 772.0,349.4 773.5,349.5 775.0,349.5 776.5,349.6 778.0,349.6 779.5,349.5 781.0,349.5 782.5,349.4 784.0,349.5 785.5,349.4" fill="none" stroke="#0c820c" stroke-width="1.6" stroke-linejoin="round"/>
<polyline points="121.0,396.6 121.5,397.9 122.0,399.1 122.5,400.4 123.0,401.1 123.5,401.9 124.0,402.3 124.5,403.1 125.0,403.8 125.5,404.4 126.0,404.8 126.5,404.9 127.0,405.5 127.5,405.9 128.0,406.3 128.5,406.1 129.0,406.0 129.5,406.2 130.0,406.4 130.5,406.6 131.0,406.6 131.5,406.5 132.0,406.7 132.5,406.7 133.0,406.9 133.5,406.8 134.0,406.8 134.5,406.7 135.0,406.8 135.5,406.9 136.0,407.0 136.5,406.9 137.0,406.8 137.5,406.4 138.0,406.3 138.5,406.2 139.0,406.4 139.5,406.2 140.0,406.0 140.5,405.9 141.0,405.9 141.5,406.1 142.0,406.0 142.5,405.8 143.0,405.7 143.5,405.6 144.0,405.8 144.5,405.6 145.0,405.5 145.5,405.3 146.0,405.4 146.5,405.2 147.0,405.2 147.5,404.8 148.0,405.1 148.5,404.7 149.0,404.5 149.5,404.2 150.0,404.3 150.5,404.6 151.0,404.6 151.5,404.4 152.0,403.9 152.5,403.4 153.0,403.1 153.5,402.7 154.0,402.3 154.5,401.6 155.0,401.0 155.5,400.2 156.0,399.5 156.5,397.9 157.0,395.3 157.5,391.8 158.0,387.3 158.5,382.7 159.0,378.9 159.5,378.7 160.0,381.7 160.5,386.2 161.0,390.4 161.5,394.0 162.0,396.9 162.5,398.8 163.0,399.9 163.5,400.7 164.0,401.4 164.5,402.0 165.0,402.4 165.5,402.5 166.0,402.8 166.5,402.9 167.0,403.3 167.5,403.3 168.0,403.7 168.5,403.8 169.0,403.9 169.5,404.0 170.0,403.7 170.5,403.6 171.0,403.6 171.5,403.9 172.0,404.1 172.5,404.3 173.0,404.2 173.5,404.0 174.0,403.9 174.5,403.8 175.0,403.8 175.5,403.5 176.0,403.5 176.5,403.3 177.0,403.4 177.5,403.0 178.0,403.0 178.5,402.4 179.0,402.3 179.5,401.5 180.0,401.1 180.5,400.9 181.0,401.0 181.5,401.0 182.0,400.6 182.5,399.8 183.0,398.6 183.5,397.0 184.0,394.8 184.5,392.5 185.0,390.5 185.5,390.2 186.0,391.5 186.5,393.7 187.0,396.1 187.5,397.4 188.0,398.3 188.5,397.9 189.0,396.9 189.5,395.1 190.0,393.5 190.5,392.7 191.0,393.3 191.5,394.8 192.0,396.6 192.5,398.1 193.0,398.9 193.5,399.7 194.0,400.0 194.5,400.3 195.0,399.9 195.5,399.5 196.0,399.6 196.5,400.0 197.0,400.7 197.5,400.9 198.0,401.1 198.5,401.2 199.0,401.4 199.5,401.3 200.0,401.2 200.5,401.0 201.0,400.8 201.5,400.1 202.0,399.3 202.5,398.0 203.0,395.9 203.5,393.0 204.0,389.2 204.5,385.0 205.0,380.1 205.5,376.7 206.0,377.0 206.5,381.0 207.0,385.9 207.5,390.3 208.0,393.5 208.5,395.9 209.0,397.3 209.5,398.0 210.0,398.1 210.5,397.7 211.0,397.1 211.5,395.7 212.0,394.5 212.5,393.7 213.0,393.6 213.5,394.7 214.0,396.2 214.5,398.1 215.0,399.6 215.5,401.0 216.0,401.4 216.5,401.6 217.0,401.8 217.5,402.0 218.0,402.3 218.5,402.1 219.0,402.1 219.5,401.9 220.0,401.3 220.5,400.8 221.0,399.8 221.5,399.0 222.0,398.0 222.5,397.3 223.0,397.0 223.5,396.5 224.0,396.3 224.5,395.8 225.0,394.8 225.5,393.1 226.0,391.6 226.5,391.2 227.0,392.5 227.5,394.7 228.0,397.0 228.5,398.7 229.0,400.0 229.5,400.8 230.0,401.4 230.5,401.7 231.0,402.1 231.5,402.3 232.0,402.4 232.5,402.1 233.0,402.1 233.5,401.7 234.0,401.6 234.5,401.4 235.0,401.5 235.5,400.9 236.0,399.8 236.5,398.1 237.0,395.9 237.5,393.6 238.0,391.7 238.5,390.7 239.0,391.2 239.5,392.2 240.0,393.2 240.5,393.4 241.0,392.6 241.5,390.9 242.0,388.6 242.5,386.3 243.0,385.2 243.5,386.0 244.0,388.6 244.5,391.5 245.0,394.2 245.5,396.1 246.0,397.4 246.5,397.9 247.0,397.7 247.5,397.0 248.0,395.9 248.5,394.2 249.0,391.1 249.5,386.3 250.0,379.3 250.5,370.8 251.0,363.6 251.5,363.1 252.0,369.8 252.5,378.6 253.0,385.9 253.5,391.1 254.0,394.5 254.5,396.9 255.0,398.4 255.5,399.3 256.0,399.9 256.5,400.7 257.0,401.2 257.5,401.6 258.0,401.6 258.5,401.7 259.0,401.6 259.5,401.7 260.0,402.0 260.5,401.9 261.0,402.0 261.5,401.5 262.0,401.3 262.5,400.9 263.0,400.8 263.5,400.9 264.0,400.9 264.5,401.3 265.0,401.5 265.5,402.3 266.0,402.5 266.5,402.8 267.0,402.5 267.5,402.5 268.0,402.4 268.5,402.6 269.0,402.7 269.5,402.9 270.0,402.7 270.5,402.7 271.0,402.7 271.5,402.6 272.0,402.3 272.5,402.1 273.0,401.8 273.5,401.6 274.0,401.1 274.5,400.7 275.0,400.4 275.5,400.1 276.0,400.6 276.5,401.1 277.0,401.6 277.5,401.8 278.0,401.8 278.5,402.1 279.0,402.3 279.5,402.1 280.0,402.0 280.5,401.4 281.0,401.0 281.5,399.9 282.0,399.4 282.5,398.4 283.0,397.5 283.5,396.2 284.0,396.1 284.5,396.3 285.0,397.4 285.5,398.7 286.0,400.0 286.5,400.9 287.0,401.4 287.5,401.8 288.0,402.1 288.5,402.4 289.0,402.6 289.5,402.7 290.0,402.6 290.5,402.7 291.0,402.6 291.5,402.9 292.0,402.9 292.5,402.8 293.0,402.3 293.5,402.1 294.0,402.0 294.5,401.9 295.0,401.2 295.5,400.5 296.0,400.2 296.5,399.9 297.0,399.8 297.5,399.9 298.0,400.6 298.5,401.1 299.0,401.5 299.5,401.7 300.0,402.1 300.5,402.5 301.0,402.6 301.5,402.3 302.0,402.0 302.5,402.0 303.0,402.0 303.5,401.9 304.0,401.5 304.5,401.0 305.0,400.1 305.5,399.0 306.0,397.4 306.5,395.7 307.0,394.5 307.5,393.6 308.0,393.8 308.5,394.7 309.0,396.3 309.5,397.8 310.0,398.9 310.5,400.0 311.0,400.9 311.5,401.7 312.0,401.9 312.5,401.9 313.0,401.5 313.5,401.3 314.0,400.7 314.5,400.3 315.0,399.8 315.5,399.6 316.0,399.3 316.5,399.6 317.0,399.9 317.5,400.5 318.0,400.8 318.5,401.2 319.0,401.6 319.5,401.8 320.0,402.1 320.5,402.1 321.0,401.9 321.5,401.7 322.0,401.1 322.5,400.5 323.0,399.5 323.5,398.5 324.0,397.2 324.5,396.1 325.0,395.2 325.5,394.9 326.0,395.6 326.5,397.0 327.0,398.5 327.5,399.8 328.0,400.8 328.5,401.4 329.0,401.7 329.5,401.7 330.0,401.7 330.5,401.7 331.0,401.7 331.5,401.7 332.0,401.5 332.5,400.9 333.0,400.2 333.5,399.2 334.0,397.9 334.5,396.3 335.0,394.7 335.5,393.5 336.0,393.3 336.5,394.3 337.0,395.8 337.5,397.3 338.0,398.9 338.5,400.0 339.0,400.8 339.5,401.1 340.0,401.4 340.5,401.6 341.0,401.9 341.5,402.1 342.0,402.0 342.5,401.7 343.0,401.1 343.5,400.4 344.0,399.2 344.5,397.4 345.0,395.1 345.5,392.6 346.0,390.1 346.5,388.8 347.0,388.8 347.5,390.8 348.0,393.3 348.5,395.5 349.0,396.3 349.5,396.0 350.0,394.9 350.5,393.3 351.0,391.8 351.5,390.8 352.0,391.6 352.5,393.5 353.0,395.5 353.5,397.5 354.0,398.9 354.5,400.2 355.0,400.8 355.5,401.3 356.0,401.7 356.5,401.7 357.0,401.7 357.5,401.5 358.0,401.3 358.5,400.7 359.0,399.8 359.5,399.1 360.0,398.9 360.5,399.2 361.0,400.0 361.5,400.9 362.0,401.6 362.5,402.1 363.0,402.3 363.5,402.3 364.0,402.2 364.5,401.9 365.0,401.8 365.5,401.7 366.0,401.2 366.5,400.9 367.0,400.5 367.5,400.3 368.0,400.0 368.5,400.3 369.0,400.8 369.5,401.3 370.0,401.8 370.5,402.2 371.0,402.6 371.5,402.9 372.0,402.9 372.5,402.6 373.0,402.2 373.5,401.6 374.0,401.2 374.5,400.5 375.0,400.3 375.5,400.1 376.0,400.5 376.5,400.8 377.0,401.2 377.5,401.9 378.0,402.4 378.5,403.1 379.0,403.2 379.5,403.5 380.0,403.7 380.5,403.7 381.0,403.9 381.5,403.5 382.0,403.6 382.5,403.5 383.0,403.6 383.5,403.6 384.0,403.7 384.5,403.9 385.0,403.7 385.5,403.7 386.0,403.4 386.5,403.7 387.0,403.7 387.5,403.8 388.0,403.7 388.5,403.8 389.0,403.8 389.5,403.8 390.0,403.8 390.5,403.5 391.0,403.5 391.5,403.6 392.0,403.7 392.5,403.7 393.0,403.2 393.5,402.9 394.0,402.4 394.5,402.3 395.0,402.2 395.5,401.9 396.0,401.5 396.5,401.2 397.0,400.9 397.5,400.9 398.0,401.0 398.5,401.7 399.0,402.0 399.5,402.5 400.0,402.8 400.5,403.4 401.0,403.5 401.5,403.5 402.0,403.6 402.5,403.9 403.0,403.8 403.5,403.8 404.0,403.7 404.5,403.9 405.0,404.0 405.5,403.9 406.0,403.5 406.5,403.3 407.0,403.5 407.5,403.5 408.0,403.2 408.5,402.8 409.0,402.1 409.5,401.4 410.0,400.1 410.5,399.3 411.0,398.3 411.5,398.0 412.0,397.8 412.5,398.2 413.0,398.7 413.5,399.9 414.0,400.8 414.5,401.9 415.0,402.3 415.5,402.8 416.0,403.2 416.5,403.5 417.0,403.8 417.5,403.9 418.0,403.9 418.5,403.7 419.0,403.8 419.5,403.9 420.0,404.2 420.5,403.9 421.0,403.7 421.5,403.3 422.0,403.4 422.5,403.7 423.0,403.9 423.5,403.8 424.0,403.5 424.5,403.3 425.0,403.0 425.5,402.7 426.0,402.4 426.5,402.2 427.0,402.2 427.5,402.6 428.0,403.1 428.5,403.4 429.0,403.5 429.5,403.7 430.0,404.0 430.5,404.1 431.0,404.2 431.5,403.7 432.0,403.8 432.5,403.7 433.0,403.9 433.5,404.0 434.0,404.4 434.5,404.4 435.0,404.4 435.5,404.4 436.0,404.5 436.5,404.5 437.0,404.3 437.5,404.3 438.0,404.0 438.5,404.1 439.0,404.3 439.5,404.4 440.0,404.4 440.5,404.2 441.0,404.4 441.5,404.5 442.0,404.7 442.5,404.6 443.0,404.5 443.5,404.3 444.0,404.4 444.5,404.5 445.0,404.6 445.5,404.8 446.0,404.8 446.5,404.8 447.0,404.8 447.5,404.8 448.0,404.7 448.5,404.4 449.0,404.5 449.5,404.7 450.0,404.8 450.5,404.8 451.0,404.9 451.5,405.0 452.0,404.8 452.5,404.7 453.0,404.6 453.5,404.9 454.0,404.8 454.5,404.8 455.0,404.6 455.5,404.5 456.0,404.5 456.5,404.5 457.0,404.8 457.5,404.7 458.0,404.7 458.5,404.5 459.0,404.5 459.5,404.7 460.0,404.7 461.5,404.9 463.0,404.7 464.5,404.8 466.0,404.6 467.5,404.7 469.0,404.7 470.5,404.9 472.0,405.0 473.5,405.1 475.0,405.1 476.5,405.1 478.0,405.2 479.5,405.2 481.0,405.2 482.5,405.1 484.0,405.1 485.5,405.1 487.0,405.2 488.5,405.2 490.0,405.4 491.5,405.3 493.0,405.1 494.5,405.0 496.0,405.1 497.5,405.3 499.0,405.3 500.5,405.3 502.0,405.3 503.5,405.3 505.0,405.3 506.5,405.4 508.0,405.5 509.5,405.6 511.0,405.4 512.5,405.2 514.0,405.1 515.5,404.9 517.0,404.5 518.5,403.7 520.0,403.4 521.5,404.0 523.0,404.7 524.5,405.2 526.0,405.4 527.5,405.3 529.0,405.2 530.5,405.1 532.0,405.2 533.5,405.3 535.0,405.5 536.5,405.5 538.0,405.5 539.5,405.4 541.0,405.4 542.5,405.3 544.0,405.3 545.5,405.5 547.0,405.5 548.5,405.6 550.0,405.6 551.5,405.7 553.0,405.6 554.5,405.5 556.0,405.5 557.5,405.6 559.0,405.6 560.5,405.7 562.0,405.7 563.5,405.7 565.0,405.7 566.5,405.7 568.0,405.7 569.5,405.6 571.0,405.6 572.5,405.6 574.0,405.6 575.5,405.7 577.0,405.7 578.5,405.7 580.0,405.6 581.5,405.6 583.0,405.6 584.5,405.5 586.0,405.5 587.5,405.6 589.0,405.7 590.5,405.7 592.0,405.8 593.5,405.8 595.0,405.8 596.5,405.8 598.0,405.8 599.5,405.7 601.0,405.7 602.5,405.7 604.0,405.8 605.5,405.8 607.0,405.8 608.5,405.8 610.0,405.7 611.5,405.7 613.0,405.6 614.5,405.7 616.0,405.7 617.5,405.8 619.0,405.8 620.5,405.8 622.0,405.7 623.5,405.7 625.0,405.7 626.5,405.7 628.0,405.8 629.5,405.7 631.0,405.7 632.5,405.7 634.0,405.8 635.5,405.8 637.0,405.8 638.5,405.8 640.0,405.7 641.5,405.8 643.0,405.8 644.5,405.8 646.0,405.8 647.5,405.8 649.0,405.7 650.5,405.7 652.0,405.7 653.5,405.7 655.0,405.7 656.5,405.7 658.0,405.7 659.5,405.8 661.0,405.9 662.5,405.9 664.0,405.8 665.5,405.7 667.0,405.7 668.5,405.8 670.0,405.8 671.5,405.8 673.0,405.9 674.5,405.9 676.0,405.9 677.5,405.8 679.0,405.8 680.5,405.8 682.0,405.9 683.5,405.9 685.0,405.9 686.5,405.8 688.0,405.7 689.5,405.8 691.0,405.8 692.5,405.9 694.0,405.9 695.5,405.9 697.0,405.9 698.5,405.8 700.0,405.8 701.5,405.9 703.0,405.8 704.5,405.8 706.0,405.7 707.5,405.7 709.0,405.7 710.5,405.7 712.0,405.7 713.5,405.8 715.0,405.7 716.5,405.7 718.0,405.7 719.5,405.7 721.0,405.8 722.5,405.9 724.0,405.9 725.5,405.8 727.0,405.8 728.5,405.7 730.0,405.8 731.5,405.8 733.0,405.8 734.5,405.8 736.0,405.8 737.5,405.7 739.0,405.7 740.5,405.7 742.0,405.7 743.5,405.7 745.0,405.7 746.5,405.8 748.0,405.8 749.5,405.9 751.0,405.8 752.5,405.8 754.0,405.8 755.5,405.8 757.0,405.8 758.5,405.7 760.0,405.7 761.5,405.7 763.0,405.7 764.5,405.8 766.0,405.8 767.5,405.8 769.0,405.7 770.5,405.8 772.0,405.9 773.5,406.0 775.0,405.9 776.5,405.8 778.0,405.7 779.5,405.7 781.0,405.8 782.5,405.8 784.0,405.8 785.5,405.8" fill="none" stroke="#0c0cfa" stroke-width="1.6" stroke-linejoin="round"/>
<polyline points="121.0,455.2 121.5,456.3 122.0,456.8 122.5,457.9 123.0,458.7 123.5,459.8 124.0,460.3 124.5,460.9 125.0,460.8 125.5,461.3 126.0,461.5 126.5,462.0 127.0,461.8 127.5,462.1 128.0,462.4 128.5,462.7 129.0,462.7 129.5,462.8 130.0,463.0 130.5,463.1 131.0,463.3 131.5,463.2 132.0,463.2 132.5,463.0 133.0,462.7 133.5,462.7 134.0,462.9 134.5,463.2 135.0,463.2 135.5,463.1 136.0,462.8 136.5,462.9 137.0,462.9 137.5,463.2 138.0,463.1 138.5,463.1 139.0,463.2 139.5,463.2 140.0,463.2 140.5,462.7 141.0,462.5 141.5,462.5 142.0,462.6 142.5,462.8 143.0,462.7 143.5,462.6 144.0,462.6 144.5,462.8 145.0,462.8 145.5,462.5 146.0,462.4 146.5,462.5 147.0,462.7 147.5,462.5 148.0,462.7 148.5,462.6 149.0,462.6 149.5,462.1 150.0,462.0 150.5,461.8 151.0,462.0 151.5,462.1 152.0,462.0 152.5,462.2 153.0,462.0 153.5,462.0 154.0,461.8 154.5,461.7 155.0,461.8 155.5,461.8 156.0,461.9 156.5,462.0 157.0,461.9 157.5,461.9 158.0,461.5 158.5,461.2 159.0,461.0 159.5,460.9 160.0,461.0 160.5,460.9 161.0,460.5 161.5,460.1 162.0,459.3 162.5,459.0 163.0,457.7 163.5,455.6 164.0,451.9 164.5,447.4 165.0,442.1 165.5,438.2 166.0,437.5 166.5,441.2 167.0,446.4 167.5,451.6 168.0,455.2 168.5,457.6 169.0,458.9 169.5,459.7 170.0,460.2 170.5,460.5 171.0,460.6 171.5,460.7 172.0,460.9 172.5,461.1 173.0,461.2 173.5,461.3 174.0,461.1 174.5,461.0 175.0,461.0 175.5,461.0 176.0,460.7 176.5,460.4 177.0,460.0 177.5,459.4 178.0,458.5 178.5,457.4 179.0,456.6 179.5,456.1 180.0,456.4 180.5,457.3 181.0,458.2 181.5,458.9 182.0,459.7 182.5,460.2 183.0,460.7 183.5,460.7 184.0,460.7 184.5,460.5 185.0,460.5 185.5,460.8 186.0,461.0 186.5,460.8 187.0,460.6 187.5,460.2 188.0,460.1 188.5,459.5 189.0,459.1 189.5,458.3 190.0,457.2 190.5,455.9 191.0,454.3 191.5,453.1 192.0,452.3 192.5,452.8 193.0,453.5 193.5,454.5 194.0,455.2 194.5,456.4 195.0,457.2 195.5,457.9 196.0,458.1 196.5,458.1 197.0,458.1 197.5,457.5 198.0,456.7 198.5,455.6 199.0,454.6 199.5,454.4 200.0,455.0 200.5,456.1 201.0,457.4 201.5,458.3 202.0,458.9 202.5,459.4 203.0,459.6 203.5,459.9 204.0,460.1 204.5,460.5 205.0,460.5 205.5,460.2 206.0,460.1 206.5,460.2 207.0,459.8 207.5,459.2 208.0,458.6 208.5,458.2 209.0,457.4 209.5,456.7 210.0,455.9 210.5,455.9 211.0,456.0 211.5,456.4 212.0,456.8 212.5,457.6 213.0,458.3 213.5,458.6 214.0,458.9 214.5,458.8 215.0,458.9 215.5,458.8 216.0,458.6 216.5,458.5 217.0,458.2 217.5,458.1 218.0,457.7 218.5,457.1 219.0,455.9 219.5,454.3 220.0,451.7 220.5,448.0 221.0,443.0 221.5,436.9 222.0,431.5 222.5,429.9 223.0,433.5 223.5,439.0 224.0,443.6 224.5,446.2 225.0,446.8 225.5,445.8 226.0,444.7 226.5,444.3 227.0,444.5 227.5,444.4 228.0,444.4 228.5,445.3 229.0,447.5 229.5,449.9 230.0,452.1 230.5,453.4 231.0,454.5 231.5,455.1 232.0,455.5 232.5,455.0 233.0,453.9 233.5,452.1 234.0,449.3 234.5,445.0 235.0,439.1 235.5,432.7 236.0,429.2 236.5,431.2 237.0,437.2 237.5,443.3 238.0,448.0 238.5,451.3 239.0,453.3 239.5,454.7 240.0,455.3 240.5,455.7 241.0,455.2 241.5,454.2 242.0,451.9 242.5,448.5 243.0,444.0 243.5,439.1 244.0,436.3 244.5,437.4 245.0,442.0 245.5,447.2 246.0,451.4 246.5,454.2 247.0,456.0 247.5,457.2 248.0,457.8 248.5,458.5 249.0,458.3 249.5,458.1 250.0,457.5 250.5,456.9 251.0,455.7 251.5,454.4 252.0,453.2 252.5,452.4 253.0,452.0 253.5,452.8 254.0,453.8 254.5,455.4 255.0,456.6 255.5,457.7 256.0,458.3 256.5,458.7 257.0,458.7 257.5,458.4 258.0,458.1 258.5,457.7 259.0,457.4 259.5,456.4 260.0,455.6 260.5,455.2 261.0,455.3 261.5,455.8 262.0,456.7 262.5,457.7 263.0,458.4 263.5,458.9 264.0,459.3 264.5,459.8 265.0,459.9 265.5,459.9 266.0,459.8 266.5,459.8 267.0,459.8 267.5,459.9 268.0,460.2 268.5,460.0 269.0,459.6 269.5,459.1 270.0,458.9 270.5,458.9 271.0,458.3 271.5,457.3 272.0,456.4 272.5,454.9 273.0,453.5 273.5,451.7 274.0,450.5 274.5,450.1 275.0,450.2 275.5,451.5 276.0,452.9 276.5,454.7 277.0,456.2 277.5,457.2 278.0,458.0 278.5,458.7 279.0,459.0 279.5,459.1 280.0,458.6 280.5,458.3 281.0,458.0 281.5,457.7 282.0,457.2 282.5,456.6 283.0,456.3 283.5,456.2 284.0,456.7 284.5,457.2 285.0,457.9 285.5,458.5 286.0,458.9 286.5,459.2 287.0,459.7 287.5,460.0 288.0,460.3 288.5,460.1 289.0,460.1 289.5,460.0 290.0,460.0 290.5,460.0 291.0,459.6 291.5,459.0 292.0,458.0 292.5,456.7 293.0,455.3 293.5,453.9 294.0,452.9 294.5,451.7 295.0,451.0 295.5,451.1 296.0,452.0 296.5,453.4 297.0,455.0 297.5,456.5 298.0,457.4 298.5,458.3 299.0,458.9 299.5,459.5 300.0,459.6 300.5,459.8 301.0,460.1 301.5,460.3 302.0,460.6 302.5,460.6 303.0,460.4 303.5,460.3 304.0,460.3 304.5,460.3 305.0,460.6 305.5,460.3 306.0,460.1 306.5,459.6 307.0,459.3 307.5,459.0 308.0,458.4 308.5,458.0 309.0,457.9 309.5,458.2 310.0,458.4 310.5,458.8 311.0,459.3 311.5,459.8 312.0,459.8 312.5,459.8 313.0,459.8 313.5,460.3 314.0,460.5 314.5,460.8 315.0,460.9 315.5,460.9 316.0,460.8 316.5,461.0 317.0,460.9 317.5,461.0 318.0,461.0 318.5,461.1 319.0,460.8 319.5,460.7 320.0,460.6 320.5,460.8 321.0,460.9 321.5,461.0 322.0,460.9 322.5,460.9 323.0,460.9 323.5,460.9 324.0,460.8 324.5,460.7 325.0,460.6 325.5,460.4 326.0,460.2 326.5,459.9 327.0,459.6 327.5,459.4 328.0,459.0 328.5,458.7 329.0,458.0 329.5,457.6 330.0,457.2 330.5,457.0 331.0,457.0 331.5,457.4 332.0,457.7 332.5,458.4 333.0,458.6 333.5,459.0 334.0,459.4 334.5,459.8 335.0,460.1 335.5,460.2 336.0,460.2 336.5,460.3 337.0,460.0 337.5,460.0 338.0,459.7 338.5,459.8 339.0,459.7 339.5,459.3 340.0,458.9 340.5,458.2 341.0,457.4 341.5,456.4 342.0,456.1 342.5,456.1 343.0,456.3 343.5,456.4 344.0,456.8 344.5,457.7 345.0,458.4 345.5,459.3 346.0,459.6 346.5,459.8 347.0,460.0 347.5,460.2 348.0,460.6 348.5,460.8 349.0,460.9 349.5,461.2 350.0,461.0 350.5,461.0 351.0,461.0 351.5,460.9 352.0,461.1 352.5,461.2 353.0,461.2 353.5,461.1 354.0,461.0 354.5,460.8 355.0,460.7 355.5,460.4 356.0,460.3 356.5,459.9 357.0,459.7 357.5,459.5 358.0,459.4 358.5,459.3 359.0,459.3 359.5,459.7 360.0,459.9 360.5,460.3 361.0,460.7 361.5,461.0 362.0,460.9 362.5,460.9 363.0,461.1 363.5,461.3 364.0,461.5 364.5,461.5 365.0,461.6 365.5,461.5 366.0,461.4 366.5,461.3 367.0,461.4 367.5,461.5 368.0,461.6 368.5,461.5 369.0,461.5 369.5,461.5 370.0,461.4 370.5,461.3 371.0,461.1 371.5,461.3 372.0,461.4 372.5,461.4 373.0,461.3 373.5,461.4 374.0,461.5 374.5,461.3 375.0,461.2 375.5,460.9 376.0,461.2 376.5,461.0 377.0,460.9 377.5,460.5 378.0,460.3 378.5,460.1 379.0,460.1 379.5,460.0 380.0,460.1 380.5,460.1 381.0,460.2 381.5,460.5 382.0,460.7 382.5,461.2 383.0,461.1 383.5,461.3 384.0,461.4 384.5,461.5 385.0,461.8 385.5,461.9 386.0,462.0 386.5,461.8 387.0,461.8 387.5,462.0 388.0,462.1 388.5,462.1 389.0,462.2 389.5,462.0 390.0,461.8 390.5,461.5 391.0,461.7 391.5,461.9 392.0,462.1 392.5,462.0 393.0,461.8 393.5,461.9 394.0,461.9 394.5,462.0 395.0,461.9 395.5,461.8 396.0,461.9 396.5,461.9 397.0,462.2 397.5,462.0 398.0,461.8 398.5,461.7 399.0,461.9 399.5,462.0 400.0,462.1 400.5,462.2 401.0,462.4 401.5,462.3 402.0,462.0 402.5,462.1 403.0,462.1 403.5,462.4 404.0,462.3 404.5,462.3 405.0,462.1 405.5,461.9 406.0,461.9 406.5,461.8 407.0,461.8 407.5,461.9 408.0,462.0 408.5,462.0 409.0,461.8 409.5,461.6 410.0,461.7 410.5,461.4 411.0,461.4 411.5,461.1 412.0,461.1 412.5,461.1 413.0,461.0 413.5,461.0 414.0,460.8 414.5,460.5 415.0,460.8 415.5,460.9 416.0,461.2 416.5,461.4 417.0,461.6 417.5,461.9 418.0,462.0 418.5,461.9 419.0,461.9 419.5,462.0 420.0,462.0 420.5,462.2 421.0,462.2 421.5,462.4 422.0,462.2 422.5,462.2 423.0,462.2 423.5,462.3 424.0,462.3 424.5,462.0 425.0,462.2 425.5,462.1 426.0,462.1 426.5,461.9 427.0,461.9 427.5,462.2 428.0,462.2 428.5,462.4 429.0,462.2 429.5,462.6 430.0,462.6 430.5,463.0 431.0,462.6 431.5,462.6 432.0,462.3 432.5,462.5 433.0,462.5 433.5,462.4 434.0,462.2 434.5,462.0 435.0,462.0 435.5,462.1 436.0,462.1 436.5,462.1 437.0,462.3 437.5,462.4 438.0,462.5 438.5,462.4 439.0,462.3 439.5,462.5 440.0,462.5 440.5,462.6 441.0,462.7 441.5,462.8 442.0,462.7 442.5,462.9 443.0,463.0 443.5,463.0 444.0,462.7 444.5,462.7 445.0,462.6 445.5,462.7 446.0,462.6 446.5,462.6 447.0,462.5 447.5,462.4 448.0,462.4 448.5,462.2 449.0,462.6 449.5,462.9 450.0,463.3 450.5,463.0 451.0,463.0 451.5,463.0 452.0,463.1 452.5,463.1 453.0,462.8 453.5,462.8 454.0,462.6 454.5,462.6 455.0,462.4 455.5,462.5 456.0,462.8 456.5,462.8 457.0,462.9 457.5,463.0 458.0,463.1 458.5,462.8 459.0,462.7 459.5,462.8 460.0,462.8 461.5,462.7 463.0,462.7 464.5,462.5 466.0,462.7 467.5,462.8 469.0,463.0 470.5,463.1 472.0,463.1 473.5,463.1 475.0,463.1 476.5,462.9 478.0,462.9 479.5,462.8 481.0,463.1 482.5,463.3 484.0,463.3 485.5,463.1 487.0,462.9 488.5,462.9 490.0,463.1 491.5,463.2 493.0,463.2 494.5,463.0 496.0,463.1 497.5,463.1 499.0,463.2 500.5,463.1 502.0,463.3 503.5,463.3 505.0,463.4 506.5,463.4 508.0,463.4 509.5,463.4 511.0,463.2 512.5,463.2 514.0,463.1 515.5,463.0 517.0,463.2 518.5,463.2 520.0,463.3 521.5,463.3 523.0,463.1 524.5,463.1 526.0,462.9 527.5,463.2 529.0,463.1 530.5,463.2 532.0,463.3 533.5,463.3 535.0,463.3 536.5,463.2 538.0,463.2 539.5,463.2 541.0,463.2 542.5,463.3 544.0,463.3 545.5,463.5 547.0,463.5 548.5,463.4 550.0,463.2 551.5,463.2 553.0,463.3 554.5,463.3 556.0,463.3 557.5,463.3 559.0,463.3 560.5,463.3 562.0,463.2 563.5,463.3 565.0,463.4 566.5,463.4 568.0,463.4 569.5,463.4 571.0,463.4 572.5,463.5 574.0,463.5 575.5,463.5 577.0,463.4 578.5,463.4 580.0,463.4 581.5,463.4 583.0,463.4 584.5,463.4 586.0,463.5 587.5,463.5 589.0,463.5 590.5,463.5 592.0,463.5 593.5,463.5 595.0,463.5 596.5,463.4 598.0,463.5 599.5,463.5 601.0,463.5 602.5,463.5 604.0,463.5 605.5,463.5 607.0,463.5 608.5,463.5 610.0,463.5 611.5,463.4 613.0,463.4 614.5,463.4 616.0,463.5 617.5,463.6 619.0,463.7 620.5,463.6 622.0,463.5 623.5,463.5 625.0,463.5 626.5,463.5 628.0,463.5 629.5,463.5 631.0,463.5 632.5,463.5 634.0,463.4 635.5,463.5 637.0,463.4 638.5,463.5 640.0,463.6 641.5,463.5 643.0,463.5 644.5,463.4 646.0,463.4 647.5,463.4 649.0,463.4 650.5,463.4 652.0,463.4 653.5,463.4 655.0,463.4 656.5,463.4 658.0,463.4 659.5,463.5 661.0,463.6 662.5,463.5 664.0,463.4 665.5,463.4 667.0,463.4 668.5,463.4 670.0,463.4 671.5,463.5 673.0,463.4 674.5,463.3 676.0,463.2 677.5,463.4 679.0,463.5 680.5,463.5 682.0,463.4 683.5,463.5 685.0,463.5 686.5,463.5 688.0,463.5 689.5,463.5 691.0,463.6 692.5,463.6 694.0,463.5 695.5,463.5 697.0,463.4 698.5,463.5 700.0,463.5 701.5,463.5 703.0,463.5 704.5,463.5 706.0,463.6 707.5,463.5 709.0,463.5 710.5,463.4 712.0,463.5 713.5,463.4 715.0,463.5 716.5,463.5 718.0,463.6 719.5,463.5 721.0,463.4 722.5,463.4 724.0,463.5 725.5,463.5 727.0,463.4 728.5,463.4 730.0,463.4 731.5,463.5 733.0,463.5 734.5,463.6 736.0,463.6 737.5,463.5 739.0,463.4 740.5,463.4 742.0,463.5 743.5,463.5 745.0,463.6 746.5,463.5 748.0,463.6 749.5,463.6 751.0,463.5 752.5,463.4 754.0,463.4 755.5,463.3 757.0,463.4 758.5,463.5 760.0,463.6 761.5,463.6 763.0,463.6 764.5,463.4 766.0,463.5 767.5,463.5 769.0,463.5 770.5,463.5 772.0,463.5 773.5,463.5 775.0,463.5 776.5,463.5 778.0,463.5 779.5,463.5 781.0,463.5 782.5,463.6 784.0,463.7 785.5,463.6" fill="none" stroke="#8e1a1a" stroke-width="1.6" stroke-linejoin="round"/>
<path d="M133.0,91.0L149.4,106.1M148.5,99.7L151.6,108.2L142.9,105.7" fill="none" stroke="#ff0a0a" stroke-width="2.8" stroke-linecap="round" stroke-linejoin="miter" stroke-miterlimit="10"/>
<path d="M179.0,86.2L195.0,100.8M194.0,94.4L197.2,102.9L188.5,100.5" fill="none" stroke="#ff0a0a" stroke-width="2.8" stroke-linecap="round" stroke-linejoin="miter" stroke-miterlimit="10"/>
<path d="M276.6,86.2L260.1,100.0M266.6,99.9L257.8,102.0L261.3,93.7" fill="none" stroke="#ff0a0a" stroke-width="2.8" stroke-linecap="round" stroke-linejoin="miter" stroke-miterlimit="10"/>
<path d="M132.0,164.6L148.2,179.4M147.2,173.0L150.4,181.4L141.7,179.0" fill="none" stroke="#ff0a0a" stroke-width="2.8" stroke-linecap="round" stroke-linejoin="miter" stroke-miterlimit="10"/>
<path d="M177.8,159.6L193.9,174.3M192.9,167.9L196.1,176.3L187.4,173.9" fill="none" stroke="#ff0a0a" stroke-width="2.8" stroke-linecap="round" stroke-linejoin="miter" stroke-miterlimit="10"/>
<path d="M275.6,159.2L258.1,173.8M264.6,173.7L255.8,175.7L259.4,167.4" fill="none" stroke="#ff0a0a" stroke-width="2.8" stroke-linecap="round" stroke-linejoin="miter" stroke-miterlimit="10"/>
<path d="M132.0,232.0L148.2,247.2M147.4,240.8L150.4,249.2L141.8,246.7" fill="none" stroke="#ff0a0a" stroke-width="2.8" stroke-linecap="round" stroke-linejoin="miter" stroke-miterlimit="10"/>
<path d="M177.7,227.0L194.0,242.7M193.2,236.3L196.1,244.8L187.5,242.2" fill="none" stroke="#ff0a0a" stroke-width="2.8" stroke-linecap="round" stroke-linejoin="miter" stroke-miterlimit="10"/>
<path d="M275.6,227.1L258.6,241.9M265.1,241.7L256.4,243.8L259.7,235.5" fill="none" stroke="#ff0a0a" stroke-width="2.8" stroke-linecap="round" stroke-linejoin="miter" stroke-miterlimit="10"/>
<path d="M136.1,311.1L152.4,326.7M151.6,320.2L154.5,328.7L145.9,326.1" fill="none" stroke="#ff0a0a" stroke-width="2.8" stroke-linecap="round" stroke-linejoin="miter" stroke-miterlimit="10"/>
<path d="M191.3,313.7L172.8,329.0M179.3,328.9L170.5,330.9L174.1,322.6" fill="none" stroke="#000" stroke-width="2.8" stroke-linecap="round" stroke-linejoin="miter" stroke-miterlimit="10"/>
<path d="M189.3,301.5L199.8,320.9M201.0,314.6L201.3,323.6L193.9,318.5" fill="none" stroke="#ff0a0a" stroke-width="2.8" stroke-linecap="round" stroke-linejoin="miter" stroke-miterlimit="10"/>
<path d="M200.6,302.6L217.7,318.3M216.8,311.9L219.9,320.4L211.2,317.9" fill="none" stroke="#000" stroke-width="2.8" stroke-linecap="round" stroke-linejoin="miter" stroke-miterlimit="10"/>
<path d="M215.9,298.8L232.7,315.1M231.9,308.7L234.8,317.2L226.2,314.6" fill="none" stroke="#000" stroke-width="2.8" stroke-linecap="round" stroke-linejoin="miter" stroke-miterlimit="10"/>
<path d="M265.9,297.2L248.7,316.7M255.1,315.6L246.7,319.0L248.9,310.2" fill="none" stroke="#000" stroke-width="2.8" stroke-linecap="round" stroke-linejoin="miter" stroke-miterlimit="10"/>
<path d="M276.1,308.8L259.9,323.0M266.4,322.7L257.7,324.9L261.0,316.6" fill="none" stroke="#ff0a0a" stroke-width="2.8" stroke-linecap="round" stroke-linejoin="miter" stroke-miterlimit="10"/>
<path d="M136.5,359.9L153.0,375.0M152.0,368.6L155.2,377.0L146.5,374.6" fill="none" stroke="#ff0a0a" stroke-width="2.8" stroke-linecap="round" stroke-linejoin="miter" stroke-miterlimit="10"/>
<path d="M182.4,355.0L198.8,370.4M198.0,364.0L201.0,372.4L192.4,369.9" fill="none" stroke="#ff0a0a" stroke-width="2.8" stroke-linecap="round" stroke-linejoin="miter" stroke-miterlimit="10"/>
<path d="M274.5,350.4L258.0,364.6M264.5,364.4L255.8,366.5L259.2,358.2" fill="none" stroke="#ff0a0a" stroke-width="2.8" stroke-linecap="round" stroke-linejoin="miter" stroke-miterlimit="10"/>
<path d="M191.3,416.7L173.8,431.3M180.3,431.3L171.5,433.3L175.0,425.0" fill="none" stroke="#000" stroke-width="2.8" stroke-linecap="round" stroke-linejoin="miter" stroke-miterlimit="10"/>
<path d="M196.3,416.7L214.0,433.1M213.1,426.7L216.2,435.2L207.5,432.7" fill="none" stroke="#000" stroke-width="2.8" stroke-linecap="round" stroke-linejoin="miter" stroke-miterlimit="10"/>
<path d="M215.2,408.0L231.1,423.3M230.3,416.9L233.2,425.4L224.6,422.8" fill="none" stroke="#000" stroke-width="2.8" stroke-linecap="round" stroke-linejoin="miter" stroke-miterlimit="10"/>
<path d="M269.9,412.8L252.8,432.3M259.1,431.2L250.8,434.5L253.0,425.8" fill="none" stroke="#000" stroke-width="2.8" stroke-linecap="round" stroke-linejoin="miter" stroke-miterlimit="10"/>
<text x="584.2" y="138.6" font-family='"Liberation Serif", serif' font-size="19" font-weight="bold" text-anchor="start" textLength="139.6" lengthAdjust="spacingAndGlyphs">AST@ZIF-SEDS</text>
<text x="584.2" y="205.5" font-family='"Liberation Serif", serif' font-size="19" font-weight="bold" text-anchor="start" textLength="117" lengthAdjust="spacingAndGlyphs">AST@ZIF-SA</text>
<text x="584.2" y="274.4" font-family='"Liberation Serif", serif' font-size="19" font-weight="bold" text-anchor="start" textLength="129.3" lengthAdjust="spacingAndGlyphs">AST@ZIF-OPS</text>
<text x="584.2" y="330" font-family='"Liberation Serif", serif' font-size="19" font-weight="bold" text-anchor="start" textLength="135.6" lengthAdjust="spacingAndGlyphs">Physical mixture</text>
<text x="584.2" y="386.9" font-family='"Liberation Serif", serif' font-size="19" font-weight="bold" text-anchor="start" textLength="84" lengthAdjust="spacingAndGlyphs">Blank ZIF</text>
<text x="584.2" y="446.1" font-family='"Liberation Serif", serif' font-size="19" font-weight="bold" text-anchor="start" textLength="102.4" lengthAdjust="spacingAndGlyphs">AST powder</text>
<text x="54.6" y="608.2" font-family='"Liberation Serif", serif' font-size="40" font-weight="bold" text-anchor="start">B</text>
<line x1="81.2" y1="628.1" x2="81.2" y2="1054.15" stroke="#111" stroke-width="1.7"/>
<line x1="72.8" y1="1054.15" x2="662.9" y2="1054.15" stroke="#111" stroke-width="1.7"/>
<text x="66.0" y="1059.2" font-family='"Liberation Sans", sans-serif' font-size="17.5" font-weight="normal" text-anchor="end">0</text>
<line x1="77.2" y1="1021.4" x2="81.2" y2="1021.4" stroke="#111" stroke-width="1.7"/>
<line x1="72.8" y1="988.6" x2="81.2" y2="988.6" stroke="#111" stroke-width="1.7"/>
<text x="66.0" y="993.6" font-family='"Liberation Sans", sans-serif' font-size="17.5" font-weight="normal" text-anchor="end">2</text>
<line x1="77.2" y1="955.8" x2="81.2" y2="955.8" stroke="#111" stroke-width="1.7"/>
<line x1="72.8" y1="923.1" x2="81.2" y2="923.1" stroke="#111" stroke-width="1.7"/>
<text x="66.0" y="928.1" font-family='"Liberation Sans", sans-serif' font-size="17.5" font-weight="normal" text-anchor="end">4</text>
<line x1="77.2" y1="890.3" x2="81.2" y2="890.3" stroke="#111" stroke-width="1.7"/>
<line x1="72.8" y1="857.5" x2="81.2" y2="857.5" stroke="#111" stroke-width="1.7"/>
<text x="66.0" y="862.5" font-family='"Liberation Sans", sans-serif' font-size="17.5" font-weight="normal" text-anchor="end">6</text>
<line x1="77.2" y1="824.7" x2="81.2" y2="824.7" stroke="#111" stroke-width="1.7"/>
<line x1="72.8" y1="792.0" x2="81.2" y2="792.0" stroke="#111" stroke-width="1.7"/>
<text x="66.0" y="797.0" font-family='"Liberation Sans", sans-serif' font-size="17.5" font-weight="normal" text-anchor="end">8</text>
<line x1="77.2" y1="759.2" x2="81.2" y2="759.2" stroke="#111" stroke-width="1.7"/>
<line x1="72.8" y1="726.4" x2="81.2" y2="726.4" stroke="#111" stroke-width="1.7"/>
<text x="66.0" y="731.4" font-family='"Liberation Sans", sans-serif' font-size="17.5" font-weight="normal" text-anchor="end">10</text>
<line x1="77.2" y1="693.6" x2="81.2" y2="693.6" stroke="#111" stroke-width="1.7"/>
<line x1="72.8" y1="660.9" x2="81.2" y2="660.9" stroke="#111" stroke-width="1.7"/>
<text x="66.0" y="665.9" font-family='"Liberation Sans", sans-serif' font-size="17.5" font-weight="normal" text-anchor="end">12</text>
<line x1="77.2" y1="628.1" x2="81.2" y2="628.1" stroke="#111" stroke-width="1.7"/>
<line x1="81.2" y1="1054.15" x2="81.2" y2="1062.5500000000002" stroke="#111" stroke-width="1.7"/>
<text x="81.2" y="1082.7" font-family='"Liberation Sans", sans-serif' font-size="17.5" font-weight="normal" text-anchor="middle">0</text>
<line x1="134.1" y1="1054.15" x2="134.1" y2="1058.15" stroke="#111" stroke-width="1.7"/>
<line x1="187.0" y1="1054.15" x2="187.0" y2="1062.5500000000002" stroke="#111" stroke-width="1.7"/>
<text x="187.0" y="1082.7" font-family='"Liberation Sans", sans-serif' font-size="17.5" font-weight="normal" text-anchor="middle">50</text>
<line x1="239.8" y1="1054.15" x2="239.8" y2="1058.15" stroke="#111" stroke-width="1.7"/>
<line x1="292.7" y1="1054.15" x2="292.7" y2="1062.5500000000002" stroke="#111" stroke-width="1.7"/>
<text x="292.7" y="1082.7" font-family='"Liberation Sans", sans-serif' font-size="17.5" font-weight="normal" text-anchor="middle">100</text>
<line x1="345.6" y1="1054.15" x2="345.6" y2="1058.15" stroke="#111" stroke-width="1.7"/>
<line x1="398.5" y1="1054.15" x2="398.5" y2="1062.5500000000002" stroke="#111" stroke-width="1.7"/>
<text x="398.5" y="1082.7" font-family='"Liberation Sans", sans-serif' font-size="17.5" font-weight="normal" text-anchor="middle">150</text>
<line x1="451.4" y1="1054.15" x2="451.4" y2="1058.15" stroke="#111" stroke-width="1.7"/>
<line x1="504.2" y1="1054.15" x2="504.2" y2="1062.5500000000002" stroke="#111" stroke-width="1.7"/>
<text x="504.2" y="1082.7" font-family='"Liberation Sans", sans-serif' font-size="17.5" font-weight="normal" text-anchor="middle">200</text>
<line x1="557.1" y1="1054.15" x2="557.1" y2="1058.15" stroke="#111" stroke-width="1.7"/>
<line x1="610.0" y1="1054.15" x2="610.0" y2="1062.5500000000002" stroke="#111" stroke-width="1.7"/>
<text x="610.0" y="1082.7" font-family='"Liberation Sans", sans-serif' font-size="17.5" font-weight="normal" text-anchor="middle">250</text>
<line x1="662.9" y1="1054.15" x2="662.9" y2="1058.15" stroke="#111" stroke-width="1.7"/>
<text x="293.1" y="1118.4" font-family='"Liberation Serif", serif' font-size="22.4" font-weight="normal" text-anchor="start" textLength="158.5" lengthAdjust="spacingAndGlyphs">Temperature (°C)</text>
<g transform="translate(17.6,909.3) rotate(-90)"><text x="0" y="0" font-family='"Liberation Serif", serif' font-size="21.8" font-weight="normal" text-anchor="start" textLength="149.3" lengthAdjust="spacingAndGlyphs">Heat flow (W/g)</text></g>
<path d="M145.0,712.8C145.4,712.0 146.5,708.5 147.5,707.8C148.5,707.1 149.3,708.3 151.0,708.5C152.7,708.7 154.4,709.5 157.6,709.0C160.8,708.5 165.5,707.3 170.1,705.2C174.7,703.1 180.6,700.0 185.2,696.5C189.8,693.0 193.5,688.7 197.7,683.9C201.9,679.1 207.3,671.7 210.3,667.6C213.3,663.5 214.2,661.0 215.5,659.5C216.8,658.0 217.3,658.5 218.2,658.8C219.0,659.0 220.0,659.5 220.6,661.0C221.2,662.5 221.5,664.4 222.0,667.6C222.5,670.8 222.9,676.6 223.6,680.0C224.3,683.4 225.1,685.7 226.0,688.0C226.9,690.3 227.8,692.2 229.1,694.0C230.4,695.8 232.1,697.5 234.0,699.0C235.9,700.5 237.2,701.5 240.4,702.7C243.6,703.9 249.1,705.4 252.9,706.0C256.7,706.6 260.6,706.2 263.0,706.5C265.4,706.8 265.4,708.1 267.5,707.8C269.6,707.5 271.6,705.8 275.5,704.7C279.4,703.6 287.2,701.3 290.6,701.0C294.0,700.7 294.3,701.5 295.6,702.7C296.9,703.9 297.5,706.2 298.5,708.0C299.5,709.8 300.1,711.9 301.5,713.5C302.9,715.1 301.3,717.1 306.9,717.8C312.5,718.5 322.8,717.8 335.0,717.8C347.2,717.8 368.3,717.6 380.0,717.5C391.7,717.4 399.1,717.8 405.0,717.3C410.9,716.8 413.0,715.9 415.5,714.5C418.0,713.1 418.6,711.1 420.0,709.0C421.4,706.9 422.8,703.1 423.6,702.0C424.4,700.9 424.5,701.7 425.0,702.5C425.5,703.3 426.0,705.2 426.5,707.0C427.0,708.8 427.4,711.9 428.0,713.5C428.6,715.1 428.4,715.9 430.4,716.4C432.4,716.9 425.1,716.4 440.0,716.4C454.9,716.4 496.7,716.3 520.0,716.2C543.3,716.1 565.0,715.8 580.0,715.7C595.0,715.6 605.0,715.7 610.0,715.7" fill="none" stroke="#7a7a7a" stroke-width="1.4" stroke-linejoin="round"/>
<path d="M145.6,801.0C145.8,799.2 146.3,794.2 146.6,790.0C146.9,785.8 147.1,779.3 147.5,776.0C147.9,772.7 147.0,772.0 149.1,770.4C151.2,768.8 156.1,767.6 160.0,766.2C163.9,764.8 167.3,763.6 172.6,762.0C177.8,760.4 185.8,757.5 191.5,756.3C197.2,755.1 200.8,754.8 207.1,755.0C213.4,755.2 220.2,756.6 229.1,757.3C238.0,758.0 251.6,758.4 260.5,759.4C269.4,760.4 275.1,761.5 282.4,763.5C289.7,765.5 297.1,768.9 304.4,771.4C311.7,773.9 319.0,776.7 326.3,778.3C333.6,779.9 339.4,780.4 348.3,780.8C357.2,781.2 369.7,781.2 380.0,780.7C390.3,780.2 402.6,778.6 410.1,777.6C417.6,776.6 420.0,775.4 425.0,774.5C430.0,773.6 436.0,772.1 440.2,772.2C444.4,772.3 447.0,774.2 450.0,775.0C453.0,775.8 455.0,776.9 458.3,777.0C461.6,777.1 465.5,776.0 470.0,775.5C474.5,775.0 478.8,774.4 485.4,773.7C492.0,773.1 500.5,772.0 509.5,771.6C518.5,771.2 531.1,771.2 539.6,771.6C548.1,772.0 553.2,772.6 560.7,773.7C568.2,774.8 578.3,777.0 584.8,778.2C591.3,779.4 595.5,780.5 599.8,780.7C604.0,781.0 608.5,779.9 610.3,779.7" fill="none" stroke="#ff7070" stroke-width="1.4" stroke-linejoin="round"/>
<path d="M146.0,847.8C146.2,846.7 147.0,842.6 147.5,841.0C148.0,839.4 147.0,839.1 149.1,838.4C151.2,837.7 155.6,837.9 160.1,836.9C164.6,835.9 170.1,835.2 175.8,832.1C181.6,829.0 188.8,823.5 194.6,818.0C200.3,812.5 206.7,803.9 210.3,799.2C214.0,794.5 215.1,791.7 216.5,790.0C217.9,788.3 217.8,788.8 218.6,788.9C219.4,789.0 220.6,789.1 221.3,790.5C222.0,791.9 222.5,794.6 223.0,797.0C223.5,799.4 223.9,802.5 224.4,805.0C224.9,807.5 225.5,810.2 226.0,812.0C226.5,813.8 226.5,814.2 227.5,816.0C228.5,817.8 230.2,820.6 232.0,822.5C233.8,824.4 234.3,825.4 238.5,827.4C242.7,829.4 251.6,833.2 257.3,834.7C263.1,836.2 268.3,836.5 273.0,836.2C277.7,835.9 281.4,834.0 285.6,833.1C289.8,832.2 295.5,830.8 298.1,830.6C300.7,830.4 300.0,830.8 301.0,832.0C302.0,833.2 302.6,835.6 304.0,838.0C305.4,840.4 305.9,844.8 309.1,846.3C312.3,847.8 310.6,847.4 323.2,847.2C335.8,847.0 371.4,846.0 385.0,845.3C398.6,844.6 400.5,843.6 405.0,843.0C409.5,842.4 410.0,842.2 412.0,841.6C414.0,841.0 415.6,840.2 417.0,839.2C418.4,838.2 419.6,836.4 420.5,835.6C421.4,834.8 421.8,834.4 422.5,834.6C423.2,834.8 423.8,835.5 424.5,836.6C425.2,837.7 426.1,840.1 427.0,841.2C427.9,842.3 428.3,843.1 430.0,843.4C431.7,843.7 433.5,842.9 437.2,843.0C440.9,843.1 446.8,844.1 452.3,843.9C457.8,843.7 462.3,842.6 470.3,841.8C478.3,840.9 493.4,839.3 500.4,838.8C507.4,838.3 507.5,838.3 512.5,838.8C517.5,839.3 524.6,840.9 530.6,841.8C536.6,842.6 542.6,843.2 548.6,843.9C554.6,844.6 556.4,845.6 566.7,846.0C577.0,846.4 603.0,846.0 610.3,846.0" fill="none" stroke="#7070ff" stroke-width="1.4" stroke-linejoin="round"/>
<path d="M145.4,904.1C145.8,904.8 144.5,907.4 147.5,908.2C150.5,909.0 158.5,908.1 163.2,908.8C167.9,909.5 170.1,911.3 175.8,912.6C181.6,913.9 189.9,915.4 197.7,916.7C205.5,918.0 214.4,919.2 222.8,920.4C231.2,921.6 239.0,923.1 247.9,923.9C256.8,924.7 264.7,924.9 276.2,925.4C287.7,925.9 298.8,926.3 316.9,926.7C335.0,927.1 357.8,927.5 385.0,927.6C412.2,927.8 451.2,927.7 480.0,927.6C508.8,927.5 541.8,927.5 557.7,927.0C573.7,926.5 569.2,925.6 575.7,924.6C582.2,923.6 591.0,922.1 596.8,920.7C602.6,919.3 608.0,917.0 610.3,916.2" fill="none" stroke="#ff60ff" stroke-width="1.4" stroke-linejoin="round"/>
<path d="M145.4,968.4C145.5,967.8 144.1,965.6 146.0,964.7C147.9,963.8 152.6,963.3 157.0,962.8C161.4,962.3 167.9,961.4 172.6,961.5C177.3,961.6 180.0,962.6 185.2,963.7C190.4,964.9 196.7,967.0 204.0,968.4C211.3,969.8 221.8,970.7 229.1,972.2C236.4,973.7 241.6,975.9 247.9,977.2C254.2,978.6 258.3,979.6 266.7,980.3C275.1,981.0 278.4,981.4 298.1,981.6C317.8,981.8 361.3,981.8 385.0,981.6C408.7,981.4 421.0,980.7 440.2,980.3C459.4,979.9 482.8,979.9 500.4,979.4C518.0,978.9 533.0,978.4 545.6,977.3C558.2,976.2 567.2,974.4 575.7,972.8C584.2,971.1 591.0,969.3 596.8,967.4C602.6,965.5 608.0,962.4 610.3,961.4" fill="none" stroke="#6cbc6c" stroke-width="1.4" stroke-linejoin="round"/>
<path d="M145.4,1042.8C145.6,1041.7 146.2,1037.9 146.5,1036.0C146.8,1034.1 146.3,1032.4 147.5,1031.2C148.7,1030.0 150.9,1029.7 153.8,1029.0C156.7,1028.3 160.8,1027.5 165.0,1027.0C169.2,1026.5 174.5,1025.8 178.9,1025.8C183.3,1025.8 185.8,1026.1 191.5,1027.1C197.2,1028.1 206.1,1030.3 213.4,1031.8C220.7,1033.3 227.6,1034.4 235.4,1035.9C243.2,1037.4 253.7,1039.3 260.5,1040.6C267.3,1041.9 269.4,1042.9 276.2,1043.7C283.0,1044.5 288.2,1044.9 301.3,1045.3C314.4,1045.7 340.7,1046.0 354.6,1046.2C368.6,1046.4 365.7,1046.7 385.0,1046.5C404.3,1046.3 441.0,1045.6 470.3,1045.1C499.6,1044.6 541.6,1044.1 560.7,1043.6C579.8,1043.1 578.3,1043.1 584.8,1042.1C591.3,1041.1 595.5,1039.4 599.8,1037.5C604.0,1035.6 608.5,1031.8 610.3,1030.6" fill="none" stroke="#7878c0" stroke-width="1.4" stroke-linejoin="round"/>
<path d="M435.89,707.51A13,18.1 0 0 1 434.12,724.04M430.10,729.08A13,18.1 0 0 1 415.24,727.27M411.92,721.33A13,18.1 0 0 1 413.94,701.29M418.73,696.62A13,18.1 0 0 1 433.26,701.29" fill="none" stroke="#cc1414" stroke-width="2.7"/>
<path d="M435.89,831.11A13,18.1 0 0 1 434.12,847.64M430.10,852.68A13,18.1 0 0 1 415.24,850.87M411.92,844.93A13,18.1 0 0 1 413.94,824.89M418.73,820.22A13,18.1 0 0 1 433.26,824.89" fill="none" stroke="#cc1414" stroke-width="2.7"/>
<text x="622.8" y="720.5" font-family='"Liberation Serif", serif' font-size="20" font-weight="bold" text-anchor="start" textLength="112.8" lengthAdjust="spacingAndGlyphs">AST powder</text>
<text x="622.8" y="786.5" font-family='"Liberation Serif", serif' font-size="20" font-weight="bold" text-anchor="start" textLength="91.4" lengthAdjust="spacingAndGlyphs">Blank ZIF</text>
<text x="622.8" y="852.1" font-family='"Liberation Serif", serif' font-size="20" font-weight="bold" text-anchor="start" textLength="150" lengthAdjust="spacingAndGlyphs">Physical mixture</text>
<text x="622.8" y="925.5" font-family='"Liberation Serif", serif' font-size="20" font-weight="bold" text-anchor="start" textLength="141.6" lengthAdjust="spacingAndGlyphs">AST@ZIF-OPS</text>
<text x="622.8" y="969.1" font-family='"Liberation Serif", serif' font-size="20" font-weight="bold" text-anchor="start" textLength="125.1" lengthAdjust="spacingAndGlyphs">AST@ZIF-SA</text>
<text x="622.8" y="1037.7" font-family='"Liberation Serif", serif' font-size="20" font-weight="bold" text-anchor="start" textLength="151.8" lengthAdjust="spacingAndGlyphs">AST@ZIF-SEDS</text>
</svg>
</body></html>
